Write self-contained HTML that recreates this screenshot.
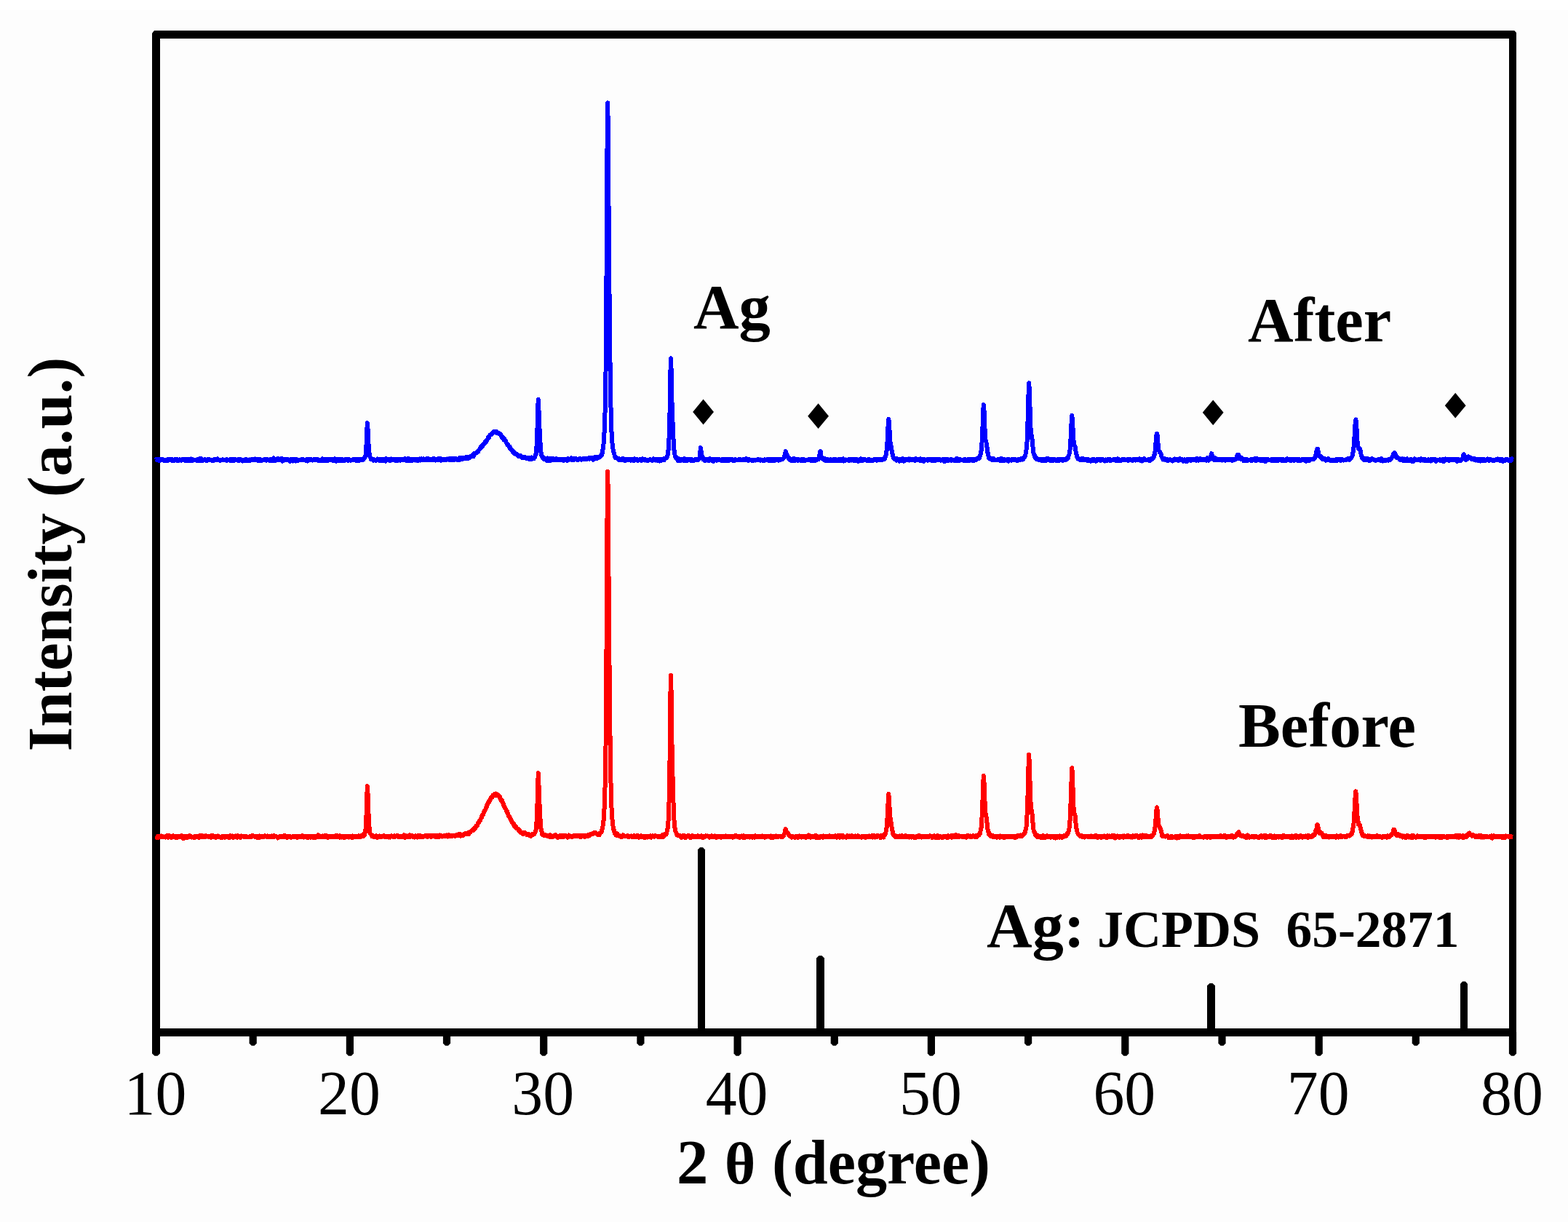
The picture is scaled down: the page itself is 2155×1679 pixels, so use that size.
<!DOCTYPE html>
<html><head><meta charset="utf-8"><title>XRD pattern</title>
<style>
html,body{margin:0;padding:0;background:#fdfdfd;}
body{width:2155px;height:1679px;position:relative;overflow:hidden;}
.band{position:absolute;left:0;top:0;width:2155px;height:14px;background:#fff;}
</style></head><body><div class="band"></div>
<svg width="2155" height="1679" viewBox="0 0 2155 1679" style="position:absolute;left:0;top:0"><polygon points="959.0,1418 969.0,1418 969.0,1167.5 966.0,1164.2 962.0,1164.2 959.0,1167.5" fill="#000"/><polygon points="1122.0,1418 1133.0,1418 1133.0,1316.4 1129.5,1313.1 1125.5,1313.1 1122.0,1316.4" fill="#000"/><polygon points="1659.0,1418 1670.0,1418 1670.0,1354.2 1666.5,1350.9 1662.5,1350.9 1659.0,1354.2" fill="#000"/><polygon points="2007.0,1418 2017.0,1418 2017.0,1351.7 2014.0,1348.4 2010.0,1348.4 2007.0,1351.7" fill="#000"/><polygon points="966.6,548.6 981.0,566.0 966.6,583.4 952.2,566.0" fill="#000"/><polygon points="1124.6,554.3 1139.0,571.7 1124.6,589.1 1110.2,571.7" fill="#000"/><polygon points="1667.2,549.4 1681.6,566.8 1667.2,584.2 1652.8,566.8" fill="#000"/><polygon points="2000.2,539.8 2014.6,557.2 2000.2,574.6 1985.8,557.2" fill="#000"/><rect x="209" y="42" width="11" height="1382" fill="#000"/><rect x="2074" y="42" width="10" height="1382" fill="#000"/><rect x="209" y="42" width="1875" height="11" fill="#000"/><rect x="209" y="1413" width="1875" height="11" fill="#000"/><polygon points="208.5,41.5 212.3,41.5 208.5,46.4" fill="#fdfdfd"/><polygon points="2080.8,41.5 2084.5,41.5 2084.5,45.5" fill="#fdfdfd"/><polygon points="209.0,1418 220.0,1418 220.0,1447.4 216.5,1450.7 212.5,1450.7 209.0,1447.4" fill="#000"/><polygon points="342.6,1418 352.8,1418 352.8,1433.5 349.7,1436.8 345.7,1436.8 342.6,1433.5" fill="#000"/><polygon points="475.8,1418 486.0,1418 486.0,1447.4 482.9,1450.7 478.9,1450.7 475.8,1447.4" fill="#000"/><polygon points="608.9,1418 619.1,1418 619.1,1433.5 616.0,1436.8 612.0,1436.8 608.9,1433.5" fill="#000"/><polygon points="742.1,1418 752.3,1418 752.3,1447.4 749.2,1450.7 745.2,1450.7 742.1,1447.4" fill="#000"/><polygon points="875.3,1418 885.5,1418 885.5,1433.5 882.4,1436.8 878.4,1436.8 875.3,1433.5" fill="#000"/><polygon points="1008.5,1418 1018.7,1418 1018.7,1447.4 1015.6,1450.7 1011.6,1450.7 1008.5,1447.4" fill="#000"/><polygon points="1141.7,1418 1151.9,1418 1151.9,1433.5 1148.8,1436.8 1144.8,1436.8 1141.7,1433.5" fill="#000"/><polygon points="1274.8,1418 1285.0,1418 1285.0,1447.4 1281.9,1450.7 1277.9,1450.7 1274.8,1447.4" fill="#000"/><polygon points="1408.0,1418 1418.2,1418 1418.2,1433.5 1415.1,1436.8 1411.1,1436.8 1408.0,1433.5" fill="#000"/><polygon points="1541.2,1418 1551.4,1418 1551.4,1447.4 1548.3,1450.7 1544.3,1450.7 1541.2,1447.4" fill="#000"/><polygon points="1674.4,1418 1684.6,1418 1684.6,1433.5 1681.5,1436.8 1677.5,1436.8 1674.4,1433.5" fill="#000"/><polygon points="1807.6,1418 1817.8,1418 1817.8,1447.4 1814.7,1450.7 1810.7,1450.7 1807.6,1447.4" fill="#000"/><polygon points="1940.7,1418 1950.9,1418 1950.9,1433.5 1947.8,1436.8 1943.8,1436.8 1940.7,1433.5" fill="#000"/><polygon points="2073.9,1418 2084.1,1418 2084.1,1447.4 2081.0,1450.7 2077.0,1450.7 2073.9,1447.4" fill="#000"/><polyline fill="none" stroke="#0000ff" stroke-width="6.0" stroke-linejoin="round" shape-rendering="crispEdges" points="214.5,631.9 215.0,631.0 215.6,631.1 216.1,632.3 216.6,632.1 217.2,632.3 217.7,631.5 218.2,632.0 218.8,631.4 219.3,633.2 219.8,630.8 220.4,632.0 220.9,631.5 221.4,632.0 222.0,632.2 222.5,631.6 223.0,631.4 223.6,632.1 224.1,632.0 224.6,631.5 225.2,632.5 225.7,633.0 226.2,631.7 226.8,632.4 227.3,633.3 227.8,632.5 228.4,632.3 228.9,632.8 229.4,633.0 229.9,631.9 230.5,631.3 231.0,632.1 231.5,632.5 232.1,631.7 232.6,631.4 233.1,632.1 233.7,631.6 234.2,631.2 234.7,632.1 235.3,632.5 235.8,631.7 236.3,631.8 236.9,631.2 237.4,632.8 237.9,632.4 238.5,632.5 239.0,633.1 239.5,631.8 240.1,631.6 240.6,632.4 241.1,631.0 241.7,631.4 242.2,631.5 242.7,631.6 243.3,631.3 243.8,632.9 244.3,631.5 244.9,631.5 245.4,633.2 245.9,631.7 246.5,632.1 247.0,631.4 247.5,632.2 248.1,631.9 248.6,631.7 249.1,632.5 249.7,631.5 250.2,632.0 250.7,631.6 251.3,632.3 251.8,631.2 252.3,631.5 252.9,632.1 253.4,631.5 253.9,631.0 254.5,630.7 255.0,633.0 255.5,631.3 256.1,631.6 256.6,632.0 257.1,632.6 257.7,631.0 258.2,632.8 258.7,631.5 259.2,631.0 259.8,633.0 260.3,632.1 260.8,632.8 261.4,631.8 261.9,630.9 262.4,630.5 263.0,633.2 263.5,632.3 264.0,631.4 264.6,630.8 265.1,631.6 265.6,632.5 266.2,631.7 266.7,631.9 267.2,632.1 267.8,632.4 268.3,631.7 268.8,631.7 269.4,632.0 269.9,632.1 270.4,632.8 271.0,632.3 271.5,631.1 272.0,632.1 272.6,632.9 273.1,631.0 273.6,631.6 274.2,630.5 274.7,631.9 275.2,632.3 275.8,632.9 276.3,631.0 276.8,630.1 277.4,632.5 277.9,632.4 278.4,631.5 279.0,632.5 279.5,632.1 280.0,632.2 280.6,631.8 281.1,631.2 281.6,631.9 282.2,631.3 282.7,632.2 283.2,631.7 283.8,633.4 284.3,632.9 284.8,631.4 285.4,632.3 285.9,631.5 286.4,631.5 286.9,631.0 287.5,631.4 288.0,631.2 288.5,632.0 289.1,632.4 289.6,632.4 290.1,632.3 290.7,632.7 291.2,632.3 291.7,632.0 292.3,631.7 292.8,632.2 293.3,633.3 293.9,632.0 294.4,631.8 294.9,631.2 295.5,631.5 296.0,632.4 296.5,632.4 297.1,630.5 297.6,631.4 298.1,630.6 298.7,630.4 299.2,632.5 299.7,631.7 300.3,631.6 300.8,631.5 301.3,631.5 301.9,631.8 302.4,631.8 302.9,633.0 303.5,632.0 304.0,632.4 304.5,631.8 305.1,632.3 305.6,631.5 306.1,631.4 306.7,631.7 307.2,631.7 307.7,631.9 308.3,632.2 308.8,632.0 309.3,632.3 309.9,631.7 310.4,631.9 310.9,631.5 311.5,632.9 312.0,631.3 312.5,632.5 313.1,632.4 313.6,632.1 314.1,632.3 314.7,631.7 315.2,632.3 315.7,632.7 316.2,632.5 316.8,631.0 317.3,631.9 317.8,632.7 318.4,631.9 318.9,633.0 319.4,630.7 320.0,633.0 320.5,631.6 321.0,631.5 321.6,632.9 322.1,631.7 322.6,631.2 323.2,631.6 323.7,631.7 324.2,631.3 324.8,631.8 325.3,631.7 325.8,632.0 326.4,631.5 326.9,632.6 327.4,631.4 328.0,632.3 328.5,632.7 329.0,631.7 329.6,630.7 330.1,631.2 330.6,632.3 331.2,631.4 331.7,632.2 332.2,632.0 332.8,631.9 333.3,633.5 333.8,631.8 334.4,632.6 334.9,632.4 335.4,633.0 336.0,633.0 336.5,632.6 337.0,631.3 337.6,630.8 338.1,631.9 338.6,631.2 339.2,632.1 339.7,633.3 340.2,631.8 340.8,631.6 341.3,632.2 341.8,631.7 342.4,631.5 342.9,632.5 343.4,633.0 344.0,632.1 344.5,632.1 345.0,632.2 345.5,631.2 346.1,630.7 346.6,632.2 347.1,631.4 347.7,631.3 348.2,631.4 348.7,631.2 349.3,632.2 349.8,631.4 350.3,630.5 350.9,631.4 351.4,632.3 351.9,631.5 352.5,631.0 353.0,631.7 353.5,632.3 354.1,630.8 354.6,632.8 355.1,631.6 355.7,631.9 356.2,632.8 356.7,631.1 357.3,631.7 357.8,632.7 358.3,631.5 358.9,632.2 359.4,633.2 359.9,632.4 360.5,631.7 361.0,631.5 361.5,631.8 362.1,631.9 362.6,631.6 363.1,632.1 363.7,631.1 364.2,631.8 364.7,631.7 365.3,631.5 365.8,632.7 366.3,632.4 366.9,630.8 367.4,631.7 367.9,632.1 368.5,631.7 369.0,632.2 369.5,631.7 370.1,632.4 370.6,631.7 371.1,633.0 371.7,631.0 372.2,632.3 372.7,633.0 373.3,632.1 373.8,632.2 374.3,631.8 374.8,632.7 375.4,631.6 375.9,629.4 376.4,632.8 377.0,631.7 377.5,632.1 378.0,631.8 378.6,633.2 379.1,632.7 379.6,631.6 380.2,631.9 380.7,630.8 381.2,632.4 381.8,631.8 382.3,629.9 382.8,632.4 383.4,632.5 383.9,631.9 384.4,631.9 385.0,631.3 385.5,631.8 386.0,632.4 386.6,631.8 387.1,630.1 387.6,631.0 388.2,633.9 388.7,632.0 389.2,632.5 389.8,631.5 390.3,632.0 390.8,630.6 391.4,631.3 391.9,631.3 392.4,631.8 393.0,631.9 393.5,631.7 394.0,631.0 394.6,631.5 395.1,632.2 395.6,631.0 396.2,631.8 396.7,632.0 397.2,632.5 397.8,632.3 398.3,632.3 398.8,633.9 399.4,631.2 399.9,631.5 400.4,632.1 401.0,631.2 401.5,631.6 402.0,631.6 402.6,633.6 403.1,632.1 403.6,631.5 404.1,630.8 404.7,630.6 405.2,630.9 405.7,632.7 406.3,633.4 406.8,631.5 407.3,631.9 407.9,631.2 408.4,632.0 408.9,631.7 409.5,632.9 410.0,631.6 410.5,632.2 411.1,631.7 411.6,631.6 412.1,632.0 412.7,631.7 413.2,631.9 413.7,631.4 414.3,631.5 414.8,632.3 415.3,632.3 415.9,630.7 416.4,632.0 416.9,631.2 417.5,631.6 418.0,632.3 418.5,632.4 419.1,631.8 419.6,631.7 420.1,631.5 420.7,632.8 421.2,632.3 421.7,632.0 422.3,630.8 422.8,633.5 423.3,631.6 423.9,632.3 424.4,631.6 424.9,632.2 425.5,631.6 426.0,630.8 426.5,631.6 427.1,631.6 427.6,631.6 428.1,632.4 428.7,631.5 429.2,632.0 429.7,632.5 430.3,631.9 430.8,632.0 431.3,631.4 431.8,631.9 432.4,632.3 432.9,630.9 433.4,631.2 434.0,631.0 434.5,631.5 435.0,632.0 435.6,632.2 436.1,632.1 436.6,631.2 437.2,631.8 437.7,632.9 438.2,631.9 438.8,632.9 439.3,631.8 439.8,632.7 440.4,632.8 440.9,631.8 441.4,631.9 442.0,633.0 442.5,631.4 443.0,630.4 443.6,632.9 444.1,630.6 444.6,632.4 445.2,632.2 445.7,632.0 446.2,632.9 446.8,631.0 447.3,631.5 447.8,632.4 448.4,632.1 448.9,632.9 449.4,632.1 450.0,631.2 450.5,633.1 451.0,632.2 451.6,631.8 452.1,631.1 452.6,630.9 453.2,632.2 453.7,632.4 454.2,631.6 454.8,632.1 455.3,632.1 455.8,631.1 456.4,630.7 456.9,631.7 457.4,632.0 458.0,631.5 458.5,633.2 459.0,631.9 459.6,632.6 460.1,630.2 460.6,631.4 461.1,631.8 461.7,632.0 462.2,633.6 462.7,631.4 463.3,630.7 463.8,632.4 464.3,631.4 464.9,631.4 465.4,633.0 465.9,631.2 466.5,630.9 467.0,631.7 467.5,631.9 468.1,631.3 468.6,632.9 469.1,631.8 469.7,631.1 470.2,632.7 470.7,631.2 471.3,632.2 471.8,633.3 472.3,631.9 472.9,632.5 473.4,631.6 473.9,632.7 474.5,631.1 475.0,632.4 475.5,631.6 476.1,632.3 476.6,632.1 477.1,631.0 477.7,631.7 478.2,632.1 478.7,632.7 479.3,631.0 479.8,631.3 480.3,632.1 480.9,631.7 481.4,632.6 481.9,632.6 482.5,632.4 483.0,631.6 483.5,631.6 484.1,632.4 484.6,631.3 485.1,631.3 485.7,631.7 486.2,631.1 486.7,632.0 487.3,631.9 487.8,631.5 488.3,631.8 488.9,631.3 489.4,632.7 489.9,630.8 490.4,632.4 491.0,631.9 491.5,632.8 492.0,631.4 492.6,630.9 493.1,631.0 493.6,631.2 494.2,632.8 494.7,632.3 495.2,632.0 495.8,632.3 496.3,630.8 496.8,631.5 497.4,631.5 497.9,631.1 498.4,632.0 499.0,631.8 499.5,631.6 500.0,630.3 500.6,629.9 501.1,629.1 501.6,627.5 502.2,627.2 502.7,623.1 503.2,616.3 503.8,606.4 504.3,591.2 504.8,581.0 505.4,586.1 505.9,597.3 506.4,608.1 507.0,616.7 507.5,621.7 508.0,626.4 508.6,628.0 509.1,628.5 509.6,630.4 510.2,631.1 510.7,631.0 511.2,630.7 511.8,631.0 512.3,631.3 512.8,631.1 513.4,632.7 513.9,632.2 514.4,631.5 515.0,632.3 515.5,632.6 516.0,632.6 516.6,632.4 517.1,631.9 517.6,632.5 518.2,631.6 518.7,630.6 519.2,631.9 519.7,630.9 520.3,631.6 520.8,632.6 521.3,632.0 521.9,632.5 522.4,631.2 522.9,632.6 523.5,630.9 524.0,631.4 524.5,633.2 525.1,631.2 525.6,630.7 526.1,632.3 526.7,631.1 527.2,633.0 527.7,631.6 528.3,632.9 528.8,631.4 529.3,633.0 529.9,633.6 530.4,631.5 530.9,630.2 531.5,632.2 532.0,631.2 532.5,631.7 533.1,632.0 533.6,631.3 534.1,630.6 534.7,632.6 535.2,631.4 535.7,631.5 536.3,632.8 536.8,630.6 537.3,630.4 537.9,632.4 538.4,630.6 538.9,631.7 539.5,631.9 540.0,630.7 540.5,631.6 541.1,631.5 541.6,630.7 542.1,630.9 542.7,631.1 543.2,632.7 543.7,632.9 544.3,631.0 544.8,632.4 545.3,631.6 545.9,632.5 546.4,631.9 546.9,632.6 547.4,630.6 548.0,632.5 548.5,631.8 549.0,631.9 549.6,630.9 550.1,632.7 550.6,631.8 551.2,631.9 551.7,631.4 552.2,631.4 552.8,632.1 553.3,631.6 553.8,632.0 554.4,631.4 554.9,631.8 555.4,632.2 556.0,631.7 556.5,631.5 557.0,630.1 557.6,632.1 558.1,631.5 558.6,630.7 559.2,633.2 559.7,632.9 560.2,632.5 560.8,631.8 561.3,630.0 561.8,631.4 562.4,630.8 562.9,631.8 563.4,633.4 564.0,633.3 564.5,631.0 565.0,631.6 565.6,632.6 566.1,630.9 566.6,632.8 567.2,630.9 567.7,630.7 568.2,632.2 568.8,632.4 569.3,631.1 569.8,632.4 570.4,631.1 570.9,632.5 571.4,631.1 572.0,631.6 572.5,631.9 573.0,632.3 573.6,631.5 574.1,633.0 574.6,631.8 575.2,631.9 575.7,631.1 576.2,632.5 576.7,630.4 577.3,631.8 577.8,632.4 578.3,630.6 578.9,630.4 579.4,631.7 579.9,632.2 580.5,631.6 581.0,632.1 581.5,631.8 582.1,630.5 582.6,631.3 583.1,631.5 583.7,631.3 584.2,631.6 584.7,631.0 585.3,630.9 585.8,631.8 586.3,631.5 586.9,629.9 587.4,631.2 587.9,631.7 588.5,630.1 589.0,631.5 589.5,632.3 590.1,631.0 590.6,632.1 591.1,631.9 591.7,631.3 592.2,631.6 592.7,632.0 593.3,631.9 593.8,631.9 594.3,630.7 594.9,632.0 595.4,631.9 595.9,630.0 596.5,631.8 597.0,630.4 597.5,630.5 598.1,631.5 598.6,632.4 599.1,631.1 599.7,630.9 600.2,630.7 600.7,631.4 601.3,630.6 601.8,630.4 602.3,632.1 602.9,630.4 603.4,631.2 603.9,631.8 604.5,631.6 605.0,630.0 605.5,630.6 606.0,632.6 606.6,631.3 607.1,631.4 607.6,631.4 608.2,631.7 608.7,632.3 609.2,630.7 609.8,631.9 610.3,631.5 610.8,631.7 611.4,631.7 611.9,630.7 612.4,630.9 613.0,631.7 613.5,631.9 614.0,631.5 614.6,630.5 615.1,631.1 615.6,631.0 616.2,631.4 616.7,631.3 617.2,631.0 617.8,632.4 618.3,629.9 618.8,631.6 619.4,631.4 619.9,630.1 620.4,630.9 621.0,631.0 621.5,631.4 622.0,632.1 622.6,630.8 623.1,630.1 623.6,631.5 624.2,629.9 624.7,631.7 625.2,631.4 625.8,630.5 626.3,630.8 626.8,630.3 627.4,631.3 627.9,631.4 628.4,632.0 629.0,631.5 629.5,631.4 630.0,631.6 630.6,630.3 631.1,631.0 631.6,631.9 632.2,628.7 632.7,631.0 633.2,631.2 633.8,629.4 634.3,629.4 634.8,631.0 635.3,631.1 635.9,630.8 636.4,629.2 636.9,630.1 637.5,630.4 638.0,629.8 638.5,628.8 639.1,630.5 639.6,629.7 640.1,630.3 640.7,627.7 641.2,627.9 641.7,628.3 642.3,629.0 642.8,628.3 643.3,630.1 643.9,628.2 644.4,629.2 644.9,629.0 645.5,628.4 646.0,627.9 646.5,627.1 647.1,626.7 647.6,626.8 648.1,627.4 648.7,626.0 649.2,626.3 649.7,625.1 650.3,626.2 650.8,627.2 651.3,625.2 651.9,623.0 652.4,623.8 652.9,623.9 653.5,622.8 654.0,622.6 654.5,622.2 655.1,622.4 655.6,621.5 656.1,620.9 656.7,621.0 657.2,620.8 657.7,619.3 658.3,618.2 658.8,617.8 659.3,617.3 659.9,616.7 660.4,614.6 660.9,615.6 661.5,614.3 662.0,613.0 662.5,613.7 663.1,612.8 663.6,611.5 664.1,610.3 664.6,610.6 665.2,609.8 665.7,609.2 666.2,609.3 666.8,607.0 667.3,607.1 667.8,607.4 668.4,605.5 668.9,605.9 669.4,604.6 670.0,603.1 670.5,603.1 671.0,600.9 671.6,602.0 672.1,600.1 672.6,599.2 673.2,597.9 673.7,597.7 674.2,597.6 674.8,597.1 675.3,596.7 675.8,595.4 676.4,596.2 676.9,594.9 677.4,595.0 678.0,594.4 678.5,594.5 679.0,592.6 679.6,594.3 680.1,593.6 680.6,593.5 681.2,593.2 681.7,593.3 682.2,593.4 682.8,593.2 683.3,595.1 683.8,594.3 684.4,595.4 684.9,594.7 685.4,596.1 686.0,596.4 686.5,596.2 687.0,595.7 687.6,596.8 688.1,597.5 688.6,597.4 689.2,599.6 689.7,601.1 690.2,600.6 690.8,601.2 691.3,600.8 691.8,600.9 692.3,604.1 692.9,602.2 693.4,603.6 693.9,604.8 694.5,605.9 695.0,605.3 695.5,607.7 696.1,608.8 696.6,609.2 697.1,611.0 697.7,610.4 698.2,611.6 698.7,612.0 699.3,612.7 699.8,614.4 700.3,613.5 700.9,615.8 701.4,615.1 701.9,617.5 702.5,616.8 703.0,618.2 703.5,618.2 704.1,619.3 704.6,620.9 705.1,620.8 705.7,620.5 706.2,620.6 706.7,622.6 707.3,623.5 707.8,623.1 708.3,623.1 708.9,623.8 709.4,624.3 709.9,623.6 710.5,623.8 711.0,624.4 711.5,625.9 712.1,625.5 712.6,626.0 713.1,627.2 713.7,625.8 714.2,626.6 714.7,627.3 715.3,626.2 715.8,626.9 716.3,627.0 716.9,627.0 717.4,627.5 717.9,629.1 718.5,628.6 719.0,627.8 719.5,629.2 720.1,628.8 720.6,628.7 721.1,628.1 721.6,628.3 722.2,628.7 722.7,629.5 723.2,628.8 723.8,629.2 724.3,629.8 724.8,628.8 725.4,629.4 725.9,630.4 726.4,629.0 727.0,630.1 727.5,629.6 728.0,631.1 728.6,630.1 729.1,630.7 729.6,630.7 730.2,631.4 730.7,628.5 731.2,630.1 731.8,629.7 732.3,629.0 732.8,629.7 733.4,629.1 733.9,630.1 734.4,628.5 735.0,628.3 735.5,626.6 736.0,625.2 736.6,623.8 737.1,620.0 737.6,612.3 738.2,599.3 738.7,581.2 739.2,559.4 739.8,549.0 740.3,557.4 740.8,573.1 741.4,586.7 741.9,597.3 742.4,606.3 743.0,615.0 743.5,621.4 744.0,624.8 744.6,626.3 745.1,627.7 745.6,628.8 746.2,627.7 746.7,629.9 747.2,630.0 747.8,631.0 748.3,630.7 748.8,630.2 749.4,630.3 749.9,630.9 750.4,630.6 750.9,630.9 751.5,632.3 752.0,633.3 752.5,629.4 753.1,630.5 753.6,631.2 754.1,632.4 754.7,632.1 755.2,630.2 755.7,633.2 756.3,631.4 756.8,630.6 757.3,631.1 757.9,630.7 758.4,631.4 758.9,629.6 759.5,632.0 760.0,632.3 760.5,631.1 761.1,630.3 761.6,631.4 762.1,630.6 762.7,631.7 763.2,632.2 763.7,630.4 764.3,630.3 764.8,630.3 765.3,631.7 765.9,632.2 766.4,632.2 766.9,631.5 767.5,631.0 768.0,631.0 768.5,632.4 769.1,631.3 769.6,631.4 770.1,631.3 770.7,631.4 771.2,631.6 771.7,631.0 772.3,631.3 772.8,631.3 773.3,631.9 773.9,631.1 774.4,631.5 774.9,632.9 775.5,631.1 776.0,631.6 776.5,630.8 777.1,631.5 777.6,631.5 778.1,631.3 778.7,631.4 779.2,631.7 779.7,632.7 780.2,630.1 780.8,632.5 781.3,631.7 781.8,631.0 782.4,631.1 782.9,631.0 783.4,630.9 784.0,630.5 784.5,631.2 785.0,629.3 785.6,632.1 786.1,631.2 786.6,631.6 787.2,631.7 787.7,631.1 788.2,630.3 788.8,631.8 789.3,631.8 789.8,630.8 790.4,630.9 790.9,629.9 791.4,630.5 792.0,631.1 792.5,631.4 793.0,631.0 793.6,631.3 794.1,632.1 794.6,631.1 795.2,631.2 795.7,631.2 796.2,631.3 796.8,629.8 797.3,630.5 797.8,630.3 798.4,631.3 798.9,631.6 799.4,631.0 800.0,630.6 800.5,631.0 801.0,630.8 801.6,630.0 802.1,630.4 802.6,631.2 803.2,630.8 803.7,630.9 804.2,630.2 804.8,631.1 805.3,630.4 805.8,629.7 806.4,630.1 806.9,630.7 807.4,630.5 808.0,629.9 808.5,629.6 809.0,629.3 809.5,629.9 810.1,630.7 810.6,628.7 811.1,629.5 811.7,629.4 812.2,629.4 812.7,630.3 813.3,629.8 813.8,629.4 814.3,628.8 814.9,629.5 815.4,631.7 815.9,629.7 816.5,629.2 817.0,628.6 817.5,629.0 818.1,627.7 818.6,628.4 819.1,628.4 819.7,628.6 820.2,630.2 820.7,628.5 821.3,628.6 821.8,629.3 822.3,628.3 822.9,628.2 823.4,628.6 823.9,628.0 824.5,627.7 825.0,626.8 825.5,626.7 826.1,625.2 826.6,625.9 827.1,623.4 827.7,622.7 828.2,619.7 828.7,616.0 829.3,612.4 829.8,606.9 830.3,599.1 830.9,587.0 831.4,572.7 831.9,547.2 832.5,512.7 833.0,458.1 833.5,380.8 834.1,284.3 834.6,189.3 835.1,141.4 835.7,167.2 836.2,236.5 836.7,311.2 837.2,375.5 837.8,430.2 838.3,481.4 838.8,522.1 839.4,555.1 839.9,575.3 840.4,592.0 841.0,600.6 841.5,608.8 842.0,614.0 842.6,617.5 843.1,620.1 843.6,621.9 844.2,623.2 844.7,625.9 845.2,627.5 845.8,629.3 846.3,628.3 846.8,628.1 847.4,628.8 847.9,629.3 848.4,629.9 849.0,630.4 849.5,630.3 850.0,630.0 850.6,631.7 851.1,630.1 851.6,631.7 852.2,630.9 852.7,631.4 853.2,631.3 853.8,631.8 854.3,631.9 854.8,631.4 855.4,632.0 855.9,629.6 856.4,631.6 857.0,631.8 857.5,631.8 858.0,632.2 858.6,633.2 859.1,631.7 859.6,631.3 860.2,632.6 860.7,631.5 861.2,632.4 861.8,631.6 862.3,631.3 862.8,631.3 863.4,631.3 863.9,632.1 864.4,631.0 865.0,632.0 865.5,631.4 866.0,631.2 866.5,631.9 867.1,632.6 867.6,631.3 868.1,632.5 868.7,632.3 869.2,632.5 869.7,631.1 870.3,631.8 870.8,633.3 871.3,631.2 871.9,630.3 872.4,630.5 872.9,632.2 873.5,631.7 874.0,631.4 874.5,631.1 875.1,631.7 875.6,632.5 876.1,631.3 876.7,631.4 877.2,632.7 877.7,632.0 878.3,631.6 878.8,631.8 879.3,631.4 879.9,631.2 880.4,631.4 880.9,631.9 881.5,632.7 882.0,631.4 882.5,630.8 883.1,630.4 883.6,631.8 884.1,631.8 884.7,630.8 885.2,630.8 885.7,631.6 886.3,631.3 886.8,632.4 887.3,631.4 887.9,632.4 888.4,631.9 888.9,631.9 889.5,632.2 890.0,633.3 890.5,632.4 891.1,631.6 891.6,631.9 892.1,632.1 892.7,631.5 893.2,631.3 893.7,631.2 894.3,632.4 894.8,631.8 895.3,632.1 895.8,632.4 896.4,632.9 896.9,631.9 897.4,632.4 898.0,630.3 898.5,631.9 899.0,632.0 899.6,632.1 900.1,630.5 900.6,632.5 901.2,631.9 901.7,632.3 902.2,631.9 902.8,631.8 903.3,631.0 903.8,632.8 904.4,631.8 904.9,630.6 905.4,632.1 906.0,631.8 906.5,632.3 907.0,633.5 907.6,631.7 908.1,630.8 908.6,631.9 909.2,632.8 909.7,631.3 910.2,631.4 910.8,630.7 911.3,630.7 911.8,631.4 912.4,630.8 912.9,632.2 913.4,630.0 914.0,630.4 914.5,629.5 915.0,629.1 915.6,629.5 916.1,628.7 916.6,628.2 917.2,627.6 917.7,624.1 918.2,620.6 918.8,616.5 919.3,607.1 919.8,594.4 920.4,573.3 920.9,543.9 921.4,511.3 922.0,492.4 922.5,504.9 923.0,532.9 923.6,556.3 924.1,570.7 924.6,582.2 925.1,594.9 925.7,607.4 926.2,614.0 926.7,621.2 927.3,624.0 927.8,626.3 928.3,627.4 928.9,629.8 929.4,628.5 929.9,629.5 930.5,629.8 931.0,629.7 931.5,631.4 932.1,633.2 932.6,630.9 933.1,630.3 933.7,630.5 934.2,631.8 934.7,631.6 935.3,631.3 935.8,632.9 936.3,632.1 936.9,632.1 937.4,630.6 937.9,632.2 938.5,630.6 939.0,631.7 939.5,632.9 940.1,630.2 940.6,632.5 941.1,631.4 941.7,630.6 942.2,632.2 942.7,632.7 943.3,631.1 943.8,631.8 944.3,632.7 944.9,632.6 945.4,632.1 945.9,631.2 946.5,632.0 947.0,631.4 947.5,630.7 948.1,631.0 948.6,630.8 949.1,631.0 949.7,633.0 950.2,631.0 950.7,631.6 951.3,631.9 951.8,632.6 952.3,633.0 952.8,632.6 953.4,631.9 953.9,632.7 954.4,632.4 955.0,632.3 955.5,631.4 956.0,632.0 956.6,631.9 957.1,630.9 957.6,632.0 958.2,631.3 958.7,632.4 959.2,631.3 959.8,631.3 960.3,630.9 960.8,630.6 961.4,629.6 961.9,626.0 962.4,620.4 963.0,615.2 963.5,619.2 964.0,626.0 964.6,627.2 965.1,628.2 965.6,627.6 966.2,629.5 966.7,631.5 967.2,630.4 967.8,631.1 968.3,632.5 968.8,633.0 969.4,632.1 969.9,632.6 970.4,632.1 971.0,631.4 971.5,630.8 972.0,632.1 972.6,630.9 973.1,631.1 973.6,632.2 974.2,633.1 974.7,631.3 975.2,631.5 975.8,630.2 976.3,630.9 976.8,631.3 977.4,630.7 977.9,632.6 978.4,631.8 979.0,632.1 979.5,630.7 980.0,631.5 980.6,634.0 981.1,630.9 981.6,632.5 982.1,631.4 982.7,632.2 983.2,631.7 983.7,631.5 984.3,631.8 984.8,632.6 985.3,630.9 985.9,631.6 986.4,631.9 986.9,631.4 987.5,632.3 988.0,630.6 988.5,631.7 989.1,631.6 989.6,631.7 990.1,632.5 990.7,632.7 991.2,631.7 991.7,631.6 992.3,631.0 992.8,631.6 993.3,632.7 993.9,631.5 994.4,631.3 994.9,631.2 995.5,631.7 996.0,632.8 996.5,631.1 997.1,632.4 997.6,631.5 998.1,633.0 998.7,631.4 999.2,632.4 999.7,631.1 1000.3,630.7 1000.8,631.1 1001.3,632.7 1001.9,632.6 1002.4,632.5 1002.9,631.4 1003.5,631.7 1004.0,631.8 1004.5,631.7 1005.1,631.5 1005.6,631.4 1006.1,630.7 1006.7,631.9 1007.2,631.8 1007.7,633.2 1008.3,632.8 1008.8,632.4 1009.3,632.7 1009.9,631.8 1010.4,631.2 1010.9,632.2 1011.4,632.2 1012.0,632.3 1012.5,631.8 1013.0,632.3 1013.6,631.6 1014.1,631.7 1014.6,631.7 1015.2,631.4 1015.7,631.9 1016.2,631.8 1016.8,630.7 1017.3,631.9 1017.8,631.4 1018.4,631.9 1018.9,632.2 1019.4,632.2 1020.0,632.5 1020.5,631.9 1021.0,632.3 1021.6,632.2 1022.1,631.1 1022.6,632.0 1023.2,631.1 1023.7,631.7 1024.2,631.3 1024.8,632.3 1025.3,631.8 1025.8,630.1 1026.4,631.3 1026.9,631.2 1027.4,631.8 1028.0,631.3 1028.5,632.7 1029.0,632.5 1029.6,631.6 1030.1,631.3 1030.6,632.2 1031.2,632.1 1031.7,632.2 1032.2,632.1 1032.8,632.8 1033.3,632.9 1033.8,632.0 1034.4,633.1 1034.9,632.6 1035.4,632.4 1036.0,632.7 1036.5,631.8 1037.0,632.2 1037.6,632.0 1038.1,632.6 1038.6,632.5 1039.2,631.6 1039.7,631.7 1040.2,632.3 1040.7,631.7 1041.3,631.8 1041.8,631.8 1042.3,630.8 1042.9,632.2 1043.4,631.6 1043.9,631.6 1044.5,632.1 1045.0,632.8 1045.5,631.5 1046.1,631.8 1046.6,631.9 1047.1,631.9 1047.7,631.9 1048.2,632.6 1048.7,631.7 1049.3,633.2 1049.8,632.0 1050.3,633.0 1050.9,632.2 1051.4,631.4 1051.9,632.1 1052.5,632.3 1053.0,631.6 1053.5,632.1 1054.1,632.2 1054.6,632.2 1055.1,630.9 1055.7,631.5 1056.2,631.6 1056.7,632.8 1057.3,631.5 1057.8,632.9 1058.3,631.6 1058.9,632.7 1059.4,630.6 1059.9,633.1 1060.5,631.1 1061.0,631.4 1061.5,633.2 1062.1,632.1 1062.6,630.9 1063.1,631.2 1063.7,633.1 1064.2,632.3 1064.7,632.8 1065.3,632.7 1065.8,632.4 1066.3,630.7 1066.9,631.8 1067.4,632.1 1067.9,632.2 1068.5,631.5 1069.0,631.4 1069.5,632.6 1070.0,630.9 1070.6,632.6 1071.1,632.1 1071.6,631.5 1072.2,630.6 1072.7,632.0 1073.2,631.5 1073.8,630.8 1074.3,631.2 1074.8,630.7 1075.4,630.6 1075.9,630.9 1076.4,630.3 1077.0,629.5 1077.5,629.2 1078.0,626.6 1078.6,627.0 1079.1,623.7 1079.6,620.0 1080.2,620.6 1080.7,623.1 1081.2,624.5 1081.8,625.6 1082.3,627.7 1082.8,627.4 1083.4,628.8 1083.9,629.7 1084.4,630.4 1085.0,630.1 1085.5,632.0 1086.0,631.7 1086.6,631.1 1087.1,632.5 1087.6,632.8 1088.2,631.4 1088.7,631.8 1089.2,631.9 1089.8,631.8 1090.3,632.6 1090.8,629.9 1091.4,632.6 1091.9,632.2 1092.4,632.9 1093.0,632.2 1093.5,630.9 1094.0,631.9 1094.6,631.5 1095.1,632.3 1095.6,630.7 1096.2,631.8 1096.7,632.8 1097.2,631.4 1097.7,632.2 1098.3,631.5 1098.8,631.9 1099.3,631.8 1099.9,631.9 1100.4,632.6 1100.9,633.0 1101.5,631.3 1102.0,632.1 1102.5,631.8 1103.1,632.3 1103.6,633.4 1104.1,632.9 1104.7,631.0 1105.2,632.5 1105.7,632.2 1106.3,633.0 1106.8,632.3 1107.3,632.2 1107.9,632.1 1108.4,632.0 1108.9,632.4 1109.5,632.4 1110.0,632.0 1110.5,631.7 1111.1,632.1 1111.6,630.8 1112.1,631.8 1112.7,631.9 1113.2,632.4 1113.7,631.3 1114.3,632.7 1114.8,633.1 1115.3,632.7 1115.9,631.5 1116.4,632.8 1116.9,631.1 1117.5,632.0 1118.0,633.0 1118.5,632.1 1119.1,630.7 1119.6,632.5 1120.1,632.9 1120.7,631.6 1121.2,631.0 1121.7,631.2 1122.3,632.1 1122.8,631.7 1123.3,631.5 1123.9,630.8 1124.4,629.9 1124.9,631.1 1125.5,629.3 1126.0,628.7 1126.5,624.3 1127.0,620.4 1127.6,620.2 1128.1,624.3 1128.6,628.7 1129.2,628.8 1129.7,629.8 1130.2,628.8 1130.8,629.4 1131.3,630.7 1131.8,631.1 1132.4,630.8 1132.9,629.6 1133.4,632.6 1134.0,631.7 1134.5,632.0 1135.0,632.6 1135.6,631.7 1136.1,632.6 1136.6,632.0 1137.2,631.1 1137.7,633.4 1138.2,631.8 1138.8,631.7 1139.3,632.6 1139.8,631.6 1140.4,631.7 1140.9,632.2 1141.4,631.1 1142.0,632.9 1142.5,631.5 1143.0,632.1 1143.6,632.7 1144.1,632.1 1144.6,632.2 1145.2,631.4 1145.7,633.0 1146.2,632.1 1146.8,632.3 1147.3,630.9 1147.8,632.8 1148.4,631.2 1148.9,633.2 1149.4,631.7 1150.0,632.1 1150.5,631.7 1151.0,632.5 1151.6,633.3 1152.1,633.1 1152.6,631.1 1153.2,631.8 1153.7,632.6 1154.2,631.4 1154.8,632.5 1155.3,632.5 1155.8,632.8 1156.3,631.2 1156.9,630.6 1157.4,632.7 1157.9,631.8 1158.5,631.3 1159.0,630.5 1159.5,633.7 1160.1,631.9 1160.6,631.5 1161.1,633.0 1161.7,631.7 1162.2,631.9 1162.7,631.5 1163.3,632.4 1163.8,631.7 1164.3,632.4 1164.9,631.6 1165.4,631.9 1165.9,632.3 1166.5,633.0 1167.0,630.8 1167.5,631.2 1168.1,631.4 1168.6,632.5 1169.1,632.2 1169.7,630.8 1170.2,631.5 1170.7,632.6 1171.3,632.0 1171.8,631.9 1172.3,632.1 1172.9,632.7 1173.4,631.1 1173.9,631.6 1174.5,632.1 1175.0,633.1 1175.5,632.4 1176.1,632.0 1176.6,631.4 1177.1,632.3 1177.7,631.2 1178.2,631.9 1178.7,632.5 1179.3,633.9 1179.8,632.8 1180.3,633.0 1180.9,632.1 1181.4,631.8 1181.9,631.0 1182.5,632.0 1183.0,632.8 1183.5,630.3 1184.1,631.8 1184.6,632.2 1185.1,632.2 1185.6,632.9 1186.2,631.5 1186.7,631.7 1187.2,630.9 1187.8,631.2 1188.3,631.4 1188.8,631.1 1189.4,632.2 1189.9,632.3 1190.4,632.0 1191.0,632.8 1191.5,632.1 1192.0,632.2 1192.6,631.5 1193.1,632.0 1193.6,633.3 1194.2,631.9 1194.7,631.0 1195.2,633.2 1195.8,632.5 1196.3,631.9 1196.8,632.9 1197.4,632.3 1197.9,631.9 1198.4,632.9 1199.0,631.7 1199.5,631.6 1200.0,632.8 1200.6,631.9 1201.1,631.2 1201.6,632.0 1202.2,631.6 1202.7,631.5 1203.2,632.1 1203.8,631.2 1204.3,631.6 1204.8,632.6 1205.4,631.5 1205.9,631.3 1206.4,631.3 1207.0,632.3 1207.5,631.5 1208.0,630.8 1208.6,631.6 1209.1,630.9 1209.6,630.8 1210.2,631.7 1210.7,631.2 1211.2,631.8 1211.8,630.7 1212.3,631.5 1212.8,631.7 1213.3,631.2 1213.9,631.0 1214.4,630.5 1214.9,630.1 1215.5,630.8 1216.0,629.9 1216.5,628.4 1217.1,627.1 1217.6,625.7 1218.1,621.3 1218.7,618.3 1219.2,613.0 1219.7,603.3 1220.3,591.0 1220.8,579.8 1221.3,575.7 1221.9,578.8 1222.4,589.3 1222.9,598.0 1223.5,607.5 1224.0,608.8 1224.5,612.4 1225.1,614.6 1225.6,619.2 1226.1,622.5 1226.7,624.6 1227.2,627.2 1227.7,627.9 1228.3,629.5 1228.8,630.4 1229.3,630.7 1229.9,631.2 1230.4,631.1 1230.9,630.2 1231.5,632.1 1232.0,632.6 1232.5,631.5 1233.1,630.4 1233.6,630.9 1234.1,630.7 1234.7,630.8 1235.2,632.2 1235.7,631.7 1236.3,633.6 1236.8,632.2 1237.3,631.4 1237.9,632.9 1238.4,633.3 1238.9,632.7 1239.5,631.7 1240.0,631.0 1240.5,630.0 1241.1,630.9 1241.6,632.9 1242.1,633.5 1242.6,631.8 1243.2,631.1 1243.7,633.0 1244.2,632.2 1244.8,632.2 1245.3,631.9 1245.8,632.0 1246.4,631.5 1246.9,631.1 1247.4,631.8 1248.0,631.4 1248.5,630.5 1249.0,632.6 1249.6,632.6 1250.1,631.5 1250.6,630.6 1251.2,631.8 1251.7,631.1 1252.2,632.1 1252.8,631.2 1253.3,632.3 1253.8,631.4 1254.4,631.6 1254.9,631.6 1255.4,630.9 1256.0,631.1 1256.5,632.3 1257.0,631.3 1257.6,633.1 1258.1,631.2 1258.6,629.9 1259.2,631.5 1259.7,631.5 1260.2,631.8 1260.8,631.3 1261.3,632.2 1261.8,631.4 1262.4,632.0 1262.9,632.2 1263.4,631.8 1264.0,631.9 1264.5,633.1 1265.0,630.4 1265.6,631.8 1266.1,633.0 1266.6,631.1 1267.2,631.9 1267.7,631.7 1268.2,631.4 1268.8,632.5 1269.3,633.9 1269.8,631.9 1270.4,631.7 1270.9,631.1 1271.4,632.4 1271.9,632.0 1272.5,631.6 1273.0,632.1 1273.5,632.0 1274.1,631.7 1274.6,632.5 1275.1,630.7 1275.7,632.5 1276.2,631.8 1276.7,632.1 1277.3,632.3 1277.8,631.5 1278.3,631.1 1278.9,630.8 1279.4,631.4 1279.9,632.2 1280.5,631.2 1281.0,632.9 1281.5,631.8 1282.1,631.5 1282.6,631.5 1283.1,632.7 1283.7,632.9 1284.2,630.7 1284.7,632.2 1285.3,633.0 1285.8,632.7 1286.3,631.9 1286.9,631.0 1287.4,631.9 1287.9,631.0 1288.5,631.7 1289.0,631.5 1289.5,631.2 1290.1,632.1 1290.6,631.7 1291.1,632.1 1291.7,632.3 1292.2,631.4 1292.7,632.4 1293.3,631.8 1293.8,632.4 1294.3,631.9 1294.9,632.2 1295.4,631.1 1295.9,631.8 1296.5,631.8 1297.0,630.7 1297.5,633.9 1298.1,632.7 1298.6,633.8 1299.1,631.9 1299.7,631.6 1300.2,631.4 1300.7,631.7 1301.2,632.5 1301.8,630.7 1302.3,631.7 1302.8,632.1 1303.4,632.7 1303.9,631.6 1304.4,632.2 1305.0,632.2 1305.5,631.8 1306.0,631.8 1306.6,632.5 1307.1,631.0 1307.6,632.6 1308.2,632.7 1308.7,631.7 1309.2,631.8 1309.8,631.9 1310.3,632.2 1310.8,631.9 1311.4,632.3 1311.9,633.1 1312.4,631.4 1313.0,632.6 1313.5,632.1 1314.0,631.4 1314.6,631.9 1315.1,630.0 1315.6,632.9 1316.2,632.4 1316.7,631.9 1317.2,631.0 1317.8,632.1 1318.3,632.9 1318.8,631.1 1319.4,632.6 1319.9,632.1 1320.4,631.3 1321.0,632.4 1321.5,632.2 1322.0,631.6 1322.6,632.1 1323.1,631.7 1323.6,632.6 1324.2,632.0 1324.7,632.7 1325.2,633.0 1325.8,630.7 1326.3,631.6 1326.8,631.3 1327.4,632.6 1327.9,631.9 1328.4,632.0 1329.0,632.9 1329.5,631.5 1330.0,632.4 1330.5,632.0 1331.1,632.9 1331.6,631.2 1332.1,631.3 1332.7,631.6 1333.2,632.5 1333.7,632.2 1334.3,631.0 1334.8,632.0 1335.3,631.6 1335.9,631.7 1336.4,632.6 1336.9,630.7 1337.5,633.1 1338.0,631.5 1338.5,631.7 1339.1,632.8 1339.6,631.4 1340.1,631.2 1340.7,631.5 1341.2,632.0 1341.7,631.0 1342.3,630.5 1342.8,630.9 1343.3,629.7 1343.9,630.1 1344.4,629.9 1344.9,629.1 1345.5,630.1 1346.0,629.4 1346.5,627.8 1347.1,626.6 1347.6,624.2 1348.1,621.9 1348.7,618.8 1349.2,613.1 1349.7,604.9 1350.3,592.9 1350.8,577.6 1351.3,561.9 1351.9,556.2 1352.4,561.6 1352.9,574.5 1353.5,588.4 1354.0,597.8 1354.5,604.6 1355.1,605.5 1355.6,608.3 1356.1,611.6 1356.7,616.0 1357.2,621.8 1357.7,622.0 1358.2,625.9 1358.8,627.5 1359.3,629.9 1359.8,629.0 1360.4,629.7 1360.9,630.6 1361.4,630.5 1362.0,630.0 1362.5,631.3 1363.0,631.8 1363.6,630.3 1364.1,631.2 1364.6,631.5 1365.2,629.9 1365.7,631.4 1366.2,631.7 1366.8,631.4 1367.3,631.9 1367.8,631.5 1368.4,631.6 1368.9,632.1 1369.4,631.9 1370.0,631.5 1370.5,631.4 1371.0,631.3 1371.6,631.2 1372.1,631.6 1372.6,631.4 1373.2,632.0 1373.7,631.9 1374.2,631.0 1374.8,633.2 1375.3,631.5 1375.8,629.6 1376.4,633.1 1376.9,630.8 1377.4,633.0 1378.0,631.6 1378.5,630.7 1379.0,630.8 1379.6,632.5 1380.1,632.7 1380.6,632.8 1381.2,631.3 1381.7,632.1 1382.2,631.8 1382.8,631.7 1383.3,631.6 1383.8,631.5 1384.4,631.8 1384.9,633.0 1385.4,630.8 1386.0,633.8 1386.5,631.0 1387.0,632.3 1387.5,632.0 1388.1,632.2 1388.6,632.1 1389.1,631.9 1389.7,632.0 1390.2,632.6 1390.7,631.2 1391.3,632.2 1391.8,630.9 1392.3,631.9 1392.9,632.3 1393.4,631.5 1393.9,631.2 1394.5,632.4 1395.0,632.0 1395.5,630.8 1396.1,632.5 1396.6,632.3 1397.1,631.6 1397.7,632.6 1398.2,633.4 1398.7,632.8 1399.3,631.4 1399.8,631.1 1400.3,631.2 1400.9,631.3 1401.4,632.3 1401.9,630.9 1402.5,630.5 1403.0,631.7 1403.5,630.5 1404.1,631.3 1404.6,630.7 1405.1,630.4 1405.7,631.5 1406.2,629.1 1406.7,630.3 1407.3,629.3 1407.8,628.9 1408.3,627.3 1408.9,626.1 1409.4,624.6 1409.9,621.1 1410.5,618.3 1411.0,613.4 1411.5,607.0 1412.1,593.3 1412.6,576.5 1413.1,556.0 1413.7,536.3 1414.2,526.4 1414.7,533.4 1415.3,550.8 1415.8,569.9 1416.3,584.8 1416.8,592.1 1417.4,597.0 1417.9,598.1 1418.4,602.2 1419.0,608.6 1419.5,614.1 1420.0,619.2 1420.6,623.0 1421.1,624.2 1421.6,624.7 1422.2,627.5 1422.7,628.2 1423.2,629.5 1423.8,630.3 1424.3,628.8 1424.8,630.9 1425.4,630.6 1425.9,631.1 1426.4,630.7 1427.0,631.3 1427.5,630.9 1428.0,632.3 1428.6,631.5 1429.1,630.6 1429.6,632.3 1430.2,632.1 1430.7,630.7 1431.2,631.4 1431.8,630.9 1432.3,633.3 1432.8,631.6 1433.4,632.6 1433.9,632.7 1434.4,631.5 1435.0,631.0 1435.5,632.8 1436.0,632.6 1436.6,632.2 1437.1,631.9 1437.6,632.8 1438.2,630.2 1438.7,631.4 1439.2,632.1 1439.8,632.2 1440.3,630.2 1440.8,630.3 1441.4,632.2 1441.9,631.6 1442.4,631.0 1443.0,632.7 1443.5,632.3 1444.0,630.9 1444.6,632.4 1445.1,632.2 1445.6,632.8 1446.1,632.4 1446.7,631.4 1447.2,632.4 1447.7,632.8 1448.3,632.3 1448.8,630.6 1449.3,631.7 1449.9,632.3 1450.4,631.8 1450.9,631.6 1451.5,631.8 1452.0,633.1 1452.5,631.6 1453.1,632.0 1453.6,631.3 1454.1,632.8 1454.7,631.1 1455.2,632.2 1455.7,633.0 1456.3,630.9 1456.8,632.2 1457.3,631.5 1457.9,631.9 1458.4,631.0 1458.9,631.0 1459.5,630.9 1460.0,631.2 1460.5,632.8 1461.1,632.8 1461.6,631.4 1462.1,632.2 1462.7,631.1 1463.2,631.3 1463.7,632.3 1464.3,631.9 1464.8,631.8 1465.3,631.5 1465.9,630.8 1466.4,629.8 1466.9,628.9 1467.5,630.0 1468.0,629.0 1468.5,626.4 1469.1,625.4 1469.6,623.6 1470.1,622.2 1470.7,616.5 1471.2,608.7 1471.7,599.5 1472.3,585.8 1472.8,576.1 1473.3,571.0 1473.9,576.1 1474.4,586.2 1474.9,596.7 1475.4,604.7 1476.0,609.3 1476.5,611.2 1477.0,612.5 1477.6,613.6 1478.1,618.1 1478.6,620.3 1479.2,623.3 1479.7,624.7 1480.2,627.6 1480.8,628.4 1481.3,630.0 1481.8,629.7 1482.4,630.2 1482.9,631.2 1483.4,631.3 1484.0,631.2 1484.5,630.9 1485.0,632.2 1485.6,630.8 1486.1,631.8 1486.6,630.2 1487.2,630.6 1487.7,632.0 1488.2,632.2 1488.8,630.0 1489.3,631.3 1489.8,631.4 1490.4,632.1 1490.9,631.9 1491.4,631.3 1492.0,631.4 1492.5,632.4 1493.0,631.0 1493.6,631.6 1494.1,632.5 1494.6,631.2 1495.2,632.0 1495.7,631.3 1496.2,632.3 1496.8,631.6 1497.3,633.0 1497.8,631.6 1498.4,633.0 1498.9,631.8 1499.4,633.7 1500.0,632.0 1500.5,631.4 1501.0,631.6 1501.6,631.1 1502.1,632.7 1502.6,630.8 1503.1,630.8 1503.7,632.8 1504.2,632.5 1504.7,632.3 1505.3,631.9 1505.8,631.8 1506.3,633.7 1506.9,631.5 1507.4,632.1 1507.9,632.7 1508.5,631.3 1509.0,632.2 1509.5,631.1 1510.1,631.6 1510.6,632.2 1511.1,631.1 1511.7,631.4 1512.2,632.3 1512.7,633.1 1513.3,632.3 1513.8,631.5 1514.3,632.1 1514.9,630.7 1515.4,631.8 1515.9,631.8 1516.5,631.7 1517.0,632.6 1517.5,632.0 1518.1,632.4 1518.6,633.6 1519.1,633.2 1519.7,631.4 1520.2,632.3 1520.7,632.0 1521.3,633.0 1521.8,632.4 1522.3,631.4 1522.9,631.9 1523.4,632.3 1523.9,630.9 1524.5,632.0 1525.0,632.2 1525.5,631.1 1526.1,633.2 1526.6,631.6 1527.1,632.7 1527.7,632.5 1528.2,632.4 1528.7,631.9 1529.3,631.9 1529.8,631.7 1530.3,631.8 1530.9,631.0 1531.4,630.8 1531.9,631.4 1532.4,631.4 1533.0,632.2 1533.5,632.7 1534.0,631.5 1534.6,631.9 1535.1,631.3 1535.6,633.2 1536.2,630.1 1536.7,632.8 1537.2,631.9 1537.8,631.2 1538.3,632.9 1538.8,632.3 1539.4,633.4 1539.9,633.0 1540.4,633.3 1541.0,631.9 1541.5,631.7 1542.0,632.2 1542.6,631.1 1543.1,631.0 1543.6,631.9 1544.2,632.1 1544.7,632.1 1545.2,632.3 1545.8,631.0 1546.3,631.8 1546.8,632.2 1547.4,632.1 1547.9,631.6 1548.4,632.2 1549.0,631.7 1549.5,632.0 1550.0,631.0 1550.6,631.1 1551.1,632.9 1551.6,632.1 1552.2,631.4 1552.7,632.3 1553.2,631.4 1553.8,631.7 1554.3,631.5 1554.8,632.0 1555.4,631.7 1555.9,631.6 1556.4,633.0 1557.0,632.6 1557.5,632.6 1558.0,630.7 1558.6,631.7 1559.1,631.7 1559.6,631.8 1560.2,632.3 1560.7,632.5 1561.2,631.3 1561.7,632.2 1562.3,630.8 1562.8,631.8 1563.3,631.9 1563.9,632.1 1564.4,632.0 1564.9,631.9 1565.5,630.8 1566.0,630.3 1566.5,632.7 1567.1,631.7 1567.6,631.4 1568.1,632.5 1568.7,632.3 1569.2,632.2 1569.7,633.6 1570.3,631.4 1570.8,631.9 1571.3,631.9 1571.9,631.8 1572.4,631.7 1572.9,630.2 1573.5,631.7 1574.0,631.3 1574.5,632.2 1575.1,631.6 1575.6,632.0 1576.1,631.9 1576.7,632.4 1577.2,632.3 1577.7,631.4 1578.3,631.2 1578.8,631.3 1579.3,632.1 1579.9,631.3 1580.4,633.3 1580.9,630.7 1581.5,631.3 1582.0,631.0 1582.5,630.2 1583.1,631.1 1583.6,629.8 1584.1,630.4 1584.7,629.2 1585.2,629.2 1585.7,627.7 1586.3,625.4 1586.8,624.7 1587.3,621.6 1587.9,617.0 1588.4,610.5 1588.9,601.6 1589.5,597.5 1590.0,595.7 1590.5,597.1 1591.0,603.8 1591.6,609.6 1592.1,614.4 1592.6,618.5 1593.2,620.0 1593.7,621.5 1594.2,620.6 1594.8,622.2 1595.3,622.7 1595.8,624.6 1596.4,627.6 1596.9,628.6 1597.4,629.2 1598.0,629.4 1598.5,631.6 1599.0,630.8 1599.6,629.7 1600.1,631.2 1600.6,631.2 1601.2,631.4 1601.7,632.3 1602.2,630.9 1602.8,631.4 1603.3,631.5 1603.8,631.2 1604.4,631.2 1604.9,633.1 1605.4,631.4 1606.0,632.2 1606.5,631.7 1607.0,632.3 1607.6,632.4 1608.1,631.2 1608.6,631.8 1609.2,632.0 1609.7,632.0 1610.2,631.8 1610.8,631.9 1611.3,633.5 1611.8,632.5 1612.4,632.0 1612.9,631.3 1613.4,630.9 1614.0,632.5 1614.5,630.5 1615.0,631.8 1615.6,631.5 1616.1,632.2 1616.6,632.3 1617.2,630.9 1617.7,632.0 1618.2,631.9 1618.7,631.1 1619.3,630.7 1619.8,632.9 1620.3,632.0 1620.9,631.9 1621.4,630.6 1621.9,630.1 1622.5,631.9 1623.0,631.6 1623.5,631.3 1624.1,631.1 1624.6,632.1 1625.1,631.3 1625.7,632.4 1626.2,633.7 1626.7,632.8 1627.3,631.7 1627.8,631.3 1628.3,633.5 1628.9,633.1 1629.4,631.9 1629.9,634.2 1630.5,631.5 1631.0,631.1 1631.5,634.0 1632.1,631.3 1632.6,632.0 1633.1,630.9 1633.7,631.7 1634.2,632.0 1634.7,631.8 1635.3,631.2 1635.8,631.7 1636.3,631.8 1636.9,632.9 1637.4,631.5 1637.9,631.8 1638.5,630.6 1639.0,631.9 1639.5,631.9 1640.1,632.3 1640.6,631.3 1641.1,632.0 1641.7,632.3 1642.2,630.7 1642.7,630.6 1643.3,632.2 1643.8,632.6 1644.3,631.0 1644.9,632.4 1645.4,629.9 1645.9,631.9 1646.5,631.2 1647.0,632.7 1647.5,631.9 1648.0,631.1 1648.6,631.5 1649.1,632.2 1649.6,630.1 1650.2,631.3 1650.7,632.0 1651.2,632.3 1651.8,632.0 1652.3,630.9 1652.8,632.4 1653.4,631.8 1653.9,632.4 1654.4,630.9 1655.0,631.9 1655.5,631.2 1656.0,631.4 1656.6,632.2 1657.1,631.3 1657.6,631.1 1658.2,632.6 1658.7,631.3 1659.2,629.3 1659.8,632.0 1660.3,631.3 1660.8,632.6 1661.4,631.3 1661.9,631.9 1662.4,630.8 1663.0,630.9 1663.5,630.9 1664.0,627.4 1664.6,624.9 1665.1,623.1 1665.6,624.7 1666.2,628.8 1666.7,629.7 1667.2,630.8 1667.8,631.4 1668.3,630.7 1668.8,631.8 1669.4,629.6 1669.9,631.3 1670.4,629.3 1671.0,630.9 1671.5,631.6 1672.0,632.1 1672.6,631.3 1673.1,631.9 1673.6,631.9 1674.2,631.1 1674.7,632.1 1675.2,632.0 1675.8,631.5 1676.3,631.1 1676.8,631.9 1677.3,631.7 1677.9,631.8 1678.4,631.3 1678.9,630.8 1679.5,632.5 1680.0,631.9 1680.5,631.9 1681.1,631.4 1681.6,630.8 1682.1,631.8 1682.7,631.7 1683.2,631.0 1683.7,632.7 1684.3,632.4 1684.8,632.1 1685.3,631.8 1685.9,631.7 1686.4,632.2 1686.9,630.6 1687.5,632.3 1688.0,631.9 1688.5,631.0 1689.1,631.2 1689.6,631.8 1690.1,631.5 1690.7,631.2 1691.2,631.8 1691.7,631.3 1692.3,632.4 1692.8,631.7 1693.3,632.9 1693.9,632.3 1694.4,632.5 1694.9,630.7 1695.5,631.9 1696.0,631.2 1696.5,632.0 1697.1,631.3 1697.6,631.2 1698.1,631.3 1698.7,629.6 1699.2,630.8 1699.7,628.3 1700.3,625.7 1700.8,626.8 1701.3,625.0 1701.9,625.7 1702.4,625.0 1702.9,627.3 1703.5,626.9 1704.0,628.8 1704.5,630.4 1705.1,630.4 1705.6,630.8 1706.1,629.9 1706.6,629.2 1707.2,630.3 1707.7,631.2 1708.2,631.3 1708.8,630.9 1709.3,633.0 1709.8,631.0 1710.4,631.2 1710.9,633.4 1711.4,630.8 1712.0,632.9 1712.5,631.9 1713.0,630.9 1713.6,633.0 1714.1,633.1 1714.6,632.6 1715.2,632.6 1715.7,632.0 1716.2,632.2 1716.8,632.2 1717.3,632.2 1717.8,632.0 1718.4,632.5 1718.9,631.7 1719.4,631.9 1720.0,632.6 1720.5,630.6 1721.0,632.8 1721.6,631.4 1722.1,632.4 1722.6,631.6 1723.2,631.5 1723.7,631.3 1724.2,630.9 1724.8,632.5 1725.3,629.9 1725.8,631.6 1726.4,632.5 1726.9,632.9 1727.4,630.2 1728.0,630.7 1728.5,631.9 1729.0,631.3 1729.6,631.0 1730.1,631.8 1730.6,632.2 1731.2,631.9 1731.7,631.3 1732.2,631.9 1732.8,632.8 1733.3,631.3 1733.8,633.1 1734.4,632.4 1734.9,631.0 1735.4,631.7 1735.9,631.7 1736.5,631.8 1737.0,631.2 1737.5,631.9 1738.1,633.3 1738.6,631.7 1739.1,634.1 1739.7,633.4 1740.2,630.8 1740.7,631.1 1741.3,632.2 1741.8,631.9 1742.3,631.8 1742.9,631.2 1743.4,632.4 1743.9,632.5 1744.5,632.3 1745.0,631.8 1745.5,631.7 1746.1,632.2 1746.6,631.4 1747.1,632.6 1747.7,631.9 1748.2,632.4 1748.7,632.6 1749.3,631.0 1749.8,632.1 1750.3,632.6 1750.9,631.9 1751.4,632.6 1751.9,631.5 1752.5,631.3 1753.0,631.2 1753.5,632.7 1754.1,632.0 1754.6,630.6 1755.1,632.0 1755.7,631.0 1756.2,630.8 1756.7,632.9 1757.3,631.0 1757.8,631.4 1758.3,631.3 1758.9,630.7 1759.4,631.6 1759.9,631.8 1760.5,631.5 1761.0,632.1 1761.5,631.5 1762.1,633.3 1762.6,630.7 1763.1,632.3 1763.6,631.5 1764.2,631.7 1764.7,631.8 1765.2,631.8 1765.8,631.8 1766.3,633.1 1766.8,632.3 1767.4,631.0 1767.9,632.6 1768.4,632.6 1769.0,630.4 1769.5,631.0 1770.0,630.8 1770.6,631.9 1771.1,631.7 1771.6,631.3 1772.2,631.5 1772.7,632.0 1773.2,632.9 1773.8,632.4 1774.3,633.0 1774.8,630.8 1775.4,632.2 1775.9,632.0 1776.4,631.7 1777.0,631.9 1777.5,631.5 1778.0,632.3 1778.6,633.0 1779.1,630.7 1779.6,632.4 1780.2,632.2 1780.7,632.5 1781.2,632.3 1781.8,631.9 1782.3,631.4 1782.8,632.7 1783.4,631.7 1783.9,632.4 1784.4,631.1 1785.0,632.8 1785.5,631.8 1786.0,631.4 1786.6,632.9 1787.1,631.8 1787.6,631.8 1788.2,632.5 1788.7,632.1 1789.2,631.2 1789.8,631.7 1790.3,632.2 1790.8,632.0 1791.4,631.6 1791.9,631.0 1792.4,631.3 1792.9,631.4 1793.5,630.8 1794.0,633.0 1794.5,632.9 1795.1,633.5 1795.6,631.3 1796.1,633.5 1796.7,631.9 1797.2,631.3 1797.7,632.8 1798.3,632.3 1798.8,632.0 1799.3,631.3 1799.9,632.9 1800.4,631.5 1800.9,631.2 1801.5,631.6 1802.0,631.5 1802.5,630.7 1803.1,631.3 1803.6,631.4 1804.1,631.5 1804.7,630.6 1805.2,631.1 1805.7,630.1 1806.3,630.0 1806.8,628.6 1807.3,629.1 1807.9,627.2 1808.4,625.2 1808.9,622.8 1809.5,619.7 1810.0,617.9 1810.5,616.6 1811.1,616.7 1811.6,619.6 1812.1,623.4 1812.7,625.8 1813.2,625.9 1813.7,627.5 1814.3,627.5 1814.8,627.9 1815.3,626.9 1815.9,627.1 1816.4,629.2 1816.9,628.9 1817.5,629.9 1818.0,631.2 1818.5,630.2 1819.1,631.1 1819.6,630.9 1820.1,629.6 1820.7,630.6 1821.2,630.8 1821.7,631.9 1822.2,632.5 1822.8,630.9 1823.3,632.0 1823.8,631.8 1824.4,632.1 1824.9,631.8 1825.4,630.2 1826.0,632.1 1826.5,632.1 1827.0,631.7 1827.6,631.7 1828.1,632.7 1828.6,633.1 1829.2,632.3 1829.7,632.0 1830.2,632.4 1830.8,632.6 1831.3,632.6 1831.8,632.2 1832.4,632.0 1832.9,633.1 1833.4,632.3 1834.0,631.7 1834.5,632.0 1835.0,632.9 1835.6,632.2 1836.1,631.9 1836.6,631.4 1837.2,633.1 1837.7,631.4 1838.2,632.2 1838.8,631.8 1839.3,631.4 1839.8,632.5 1840.4,632.5 1840.9,632.0 1841.4,631.4 1842.0,632.3 1842.5,632.9 1843.0,632.4 1843.6,631.6 1844.1,631.0 1844.6,632.2 1845.2,632.1 1845.7,632.0 1846.2,631.9 1846.8,632.5 1847.3,632.1 1847.8,631.6 1848.4,631.7 1848.9,631.7 1849.4,632.4 1850.0,632.0 1850.5,632.1 1851.0,630.8 1851.5,630.5 1852.1,631.2 1852.6,630.2 1853.1,631.5 1853.7,631.3 1854.2,631.9 1854.7,630.6 1855.3,630.8 1855.8,630.2 1856.3,629.5 1856.9,629.5 1857.4,629.4 1857.9,627.7 1858.5,626.4 1859.0,624.6 1859.5,621.6 1860.1,618.7 1860.6,613.7 1861.1,605.5 1861.7,597.1 1862.2,588.1 1862.7,580.2 1863.3,576.4 1863.8,578.9 1864.3,586.6 1864.9,594.8 1865.4,604.7 1865.9,610.4 1866.5,614.4 1867.0,616.0 1867.5,616.9 1868.1,617.3 1868.6,616.1 1869.1,617.9 1869.7,619.2 1870.2,622.9 1870.7,624.6 1871.3,626.1 1871.8,629.2 1872.3,629.8 1872.9,629.0 1873.4,630.0 1873.9,631.7 1874.5,631.2 1875.0,631.7 1875.5,631.4 1876.1,630.2 1876.6,631.7 1877.1,630.0 1877.7,631.7 1878.2,632.1 1878.7,630.5 1879.2,631.0 1879.8,630.7 1880.3,630.4 1880.8,631.0 1881.4,630.9 1881.9,633.0 1882.4,632.3 1883.0,631.5 1883.5,631.7 1884.0,631.3 1884.6,632.1 1885.1,631.1 1885.6,630.4 1886.2,631.4 1886.7,631.3 1887.2,631.5 1887.8,631.2 1888.3,631.7 1888.8,632.2 1889.4,631.7 1889.9,631.8 1890.4,632.9 1891.0,631.7 1891.5,631.8 1892.0,631.7 1892.6,632.2 1893.1,631.5 1893.6,631.4 1894.2,632.4 1894.7,631.6 1895.2,631.3 1895.8,631.4 1896.3,632.5 1896.8,632.6 1897.4,631.9 1897.9,632.6 1898.4,630.1 1899.0,632.4 1899.5,632.4 1900.0,631.4 1900.6,632.2 1901.1,633.5 1901.6,632.0 1902.2,632.6 1902.7,632.2 1903.2,633.0 1903.8,632.5 1904.3,632.0 1904.8,631.9 1905.4,632.6 1905.9,632.3 1906.4,632.4 1907.0,631.7 1907.5,631.8 1908.0,632.5 1908.5,631.2 1909.1,632.0 1909.6,631.1 1910.1,631.9 1910.7,630.9 1911.2,630.9 1911.7,630.4 1912.3,629.6 1912.8,628.9 1913.3,628.1 1913.9,626.7 1914.4,626.0 1914.9,623.2 1915.5,623.1 1916.0,622.4 1916.5,621.7 1917.1,623.2 1917.6,623.8 1918.1,626.0 1918.7,626.9 1919.2,628.7 1919.7,628.6 1920.3,628.2 1920.8,628.6 1921.3,628.7 1921.9,629.0 1922.4,630.1 1922.9,630.5 1923.5,631.4 1924.0,630.5 1924.5,631.2 1925.1,631.7 1925.6,631.2 1926.1,631.9 1926.7,630.9 1927.2,630.4 1927.7,631.4 1928.3,632.3 1928.8,632.8 1929.3,630.4 1929.9,631.5 1930.4,632.7 1930.9,631.1 1931.5,633.0 1932.0,632.2 1932.5,632.1 1933.1,632.2 1933.6,632.7 1934.1,630.3 1934.7,632.2 1935.2,631.7 1935.7,631.9 1936.3,633.0 1936.8,632.3 1937.3,631.8 1937.8,631.3 1938.4,632.2 1938.9,631.7 1939.4,632.2 1940.0,631.5 1940.5,633.7 1941.0,631.5 1941.6,632.4 1942.1,632.3 1942.6,633.9 1943.2,632.7 1943.7,631.5 1944.2,630.3 1944.8,632.4 1945.3,632.4 1945.8,631.6 1946.4,631.7 1946.9,632.4 1947.4,632.1 1948.0,632.2 1948.5,631.5 1949.0,631.4 1949.6,630.7 1950.1,631.3 1950.6,631.5 1951.2,631.8 1951.7,631.3 1952.2,632.6 1952.8,630.4 1953.3,631.8 1953.8,631.0 1954.4,632.5 1954.9,631.2 1955.4,631.7 1956.0,632.1 1956.5,632.4 1957.0,632.6 1957.6,630.7 1958.1,631.1 1958.6,631.9 1959.2,631.8 1959.7,632.5 1960.2,633.2 1960.8,633.2 1961.3,632.4 1961.8,632.1 1962.4,632.8 1962.9,631.4 1963.4,631.6 1964.0,631.8 1964.5,633.2 1965.0,632.1 1965.6,632.0 1966.1,632.8 1966.6,633.5 1967.1,630.6 1967.7,631.5 1968.2,632.2 1968.7,630.8 1969.3,631.2 1969.8,631.6 1970.3,631.8 1970.9,631.4 1971.4,630.9 1971.9,631.9 1972.5,632.1 1973.0,631.5 1973.5,633.9 1974.1,631.9 1974.6,632.2 1975.1,632.0 1975.7,632.1 1976.2,631.7 1976.7,631.9 1977.3,631.9 1977.8,632.0 1978.3,631.6 1978.9,632.3 1979.4,631.3 1979.9,633.1 1980.5,631.8 1981.0,631.6 1981.5,632.8 1982.1,632.2 1982.6,631.0 1983.1,632.0 1983.7,632.6 1984.2,634.0 1984.7,631.7 1985.3,631.9 1985.8,631.5 1986.3,630.5 1986.9,631.9 1987.4,631.9 1987.9,632.4 1988.5,632.0 1989.0,632.0 1989.5,631.4 1990.1,631.6 1990.6,632.5 1991.1,632.3 1991.7,631.0 1992.2,632.6 1992.7,631.4 1993.3,630.8 1993.8,631.5 1994.3,631.8 1994.9,631.0 1995.4,631.7 1995.9,631.9 1996.4,632.1 1997.0,631.1 1997.5,631.5 1998.0,630.9 1998.6,632.2 1999.1,632.2 1999.6,632.2 2000.2,631.7 2000.7,632.4 2001.2,631.3 2001.8,631.7 2002.3,632.6 2002.8,634.0 2003.4,633.2 2003.9,630.9 2004.4,631.9 2005.0,631.8 2005.5,632.2 2006.0,631.6 2006.6,633.2 2007.1,633.2 2007.6,632.9 2008.2,631.6 2008.7,631.1 2009.2,631.0 2009.8,630.9 2010.3,630.6 2010.8,627.0 2011.4,624.7 2011.9,624.5 2012.4,627.5 2013.0,629.9 2013.5,631.1 2014.0,631.4 2014.6,631.9 2015.1,630.8 2015.6,630.9 2016.2,629.6 2016.7,630.8 2017.2,627.6 2017.8,627.5 2018.3,627.4 2018.8,627.9 2019.4,628.2 2019.9,629.2 2020.4,628.3 2021.0,629.7 2021.5,629.6 2022.0,629.9 2022.6,631.1 2023.1,631.0 2023.6,631.2 2024.1,630.2 2024.7,630.8 2025.2,630.8 2025.7,630.5 2026.3,631.2 2026.8,629.9 2027.3,632.1 2027.9,630.7 2028.4,630.7 2028.9,632.5 2029.5,631.2 2030.0,631.6 2030.5,631.2 2031.1,632.7 2031.6,631.7 2032.1,632.6 2032.7,632.1 2033.2,630.9 2033.7,632.0 2034.3,633.5 2034.8,632.9 2035.3,632.7 2035.9,631.2 2036.4,632.4 2036.9,633.0 2037.5,631.1 2038.0,631.8 2038.5,631.7 2039.1,632.5 2039.6,630.9 2040.1,632.0 2040.7,633.3 2041.2,632.7 2041.7,632.5 2042.3,632.1 2042.8,631.4 2043.3,632.5 2043.9,632.4 2044.4,630.4 2044.9,631.9 2045.5,632.3 2046.0,631.9 2046.5,632.8 2047.1,631.6 2047.6,631.3 2048.1,632.4 2048.7,631.2 2049.2,632.1 2049.7,631.7 2050.3,632.5 2050.8,632.5 2051.3,633.0 2051.9,631.8 2052.4,632.1 2052.9,632.1 2053.4,632.7 2054.0,632.8 2054.5,632.4 2055.0,631.6 2055.6,631.7 2056.1,632.4 2056.6,631.7 2057.2,630.7 2057.7,631.9 2058.2,630.5 2058.8,631.6 2059.3,631.0 2059.8,632.3 2060.4,631.1 2060.9,632.8 2061.4,631.8 2062.0,632.2 2062.5,633.3 2063.0,632.9 2063.6,631.2 2064.1,631.6 2064.6,631.0 2065.2,631.8 2065.7,634.0 2066.2,631.8 2066.8,632.3 2067.3,632.3 2067.8,632.3 2068.4,632.5 2068.9,632.6 2069.4,631.1 2070.0,631.6 2070.5,632.4 2071.0,632.2 2071.6,631.3 2072.1,631.7 2072.6,631.8 2073.2,632.8 2073.7,632.3 2074.2,632.7 2074.8,633.3 2075.3,631.3 2075.8,632.2 2076.4,632.2 2076.9,632.6 2077.4,631.4 2078.0,630.5 2078.5,631.5 2079.0,631.3"/><polyline fill="none" stroke="#ff0000" stroke-width="6.0" stroke-linejoin="round" shape-rendering="crispEdges" points="214.5,1149.2 215.0,1149.4 215.6,1149.6 216.1,1151.2 216.6,1149.3 217.2,1151.1 217.7,1148.9 218.2,1149.1 218.8,1149.0 219.3,1149.0 219.8,1149.4 220.4,1149.9 220.9,1149.8 221.4,1148.5 222.0,1150.0 222.5,1149.7 223.0,1150.1 223.6,1149.9 224.1,1149.8 224.6,1149.4 225.2,1149.8 225.7,1149.8 226.2,1150.0 226.8,1149.5 227.3,1150.5 227.8,1149.5 228.4,1148.7 228.9,1150.1 229.4,1149.6 229.9,1147.6 230.5,1150.3 231.0,1150.7 231.5,1149.9 232.1,1148.3 232.6,1148.1 233.1,1150.4 233.7,1149.2 234.2,1149.6 234.7,1150.0 235.3,1150.9 235.8,1148.9 236.3,1150.2 236.9,1149.4 237.4,1149.5 237.9,1148.3 238.5,1148.7 239.0,1150.4 239.5,1149.8 240.1,1148.8 240.6,1150.5 241.1,1149.8 241.7,1149.4 242.2,1150.7 242.7,1150.4 243.3,1150.8 243.8,1149.4 244.3,1150.0 244.9,1148.9 245.4,1149.5 245.9,1149.2 246.5,1149.6 247.0,1149.0 247.5,1149.6 248.1,1150.3 248.6,1148.7 249.1,1148.9 249.7,1148.0 250.2,1149.7 250.7,1150.0 251.3,1150.6 251.8,1152.3 252.3,1150.5 252.9,1149.2 253.4,1150.2 253.9,1151.4 254.5,1149.1 255.0,1150.0 255.5,1149.8 256.1,1149.9 256.6,1149.7 257.1,1149.2 257.7,1150.8 258.2,1149.7 258.7,1149.9 259.2,1148.8 259.8,1150.3 260.3,1148.4 260.8,1149.1 261.4,1148.4 261.9,1150.1 262.4,1149.0 263.0,1149.3 263.5,1150.6 264.0,1149.8 264.6,1149.9 265.1,1150.2 265.6,1150.1 266.2,1150.6 266.7,1149.9 267.2,1149.3 267.8,1150.1 268.3,1150.7 268.8,1148.8 269.4,1149.8 269.9,1149.5 270.4,1149.7 271.0,1149.9 271.5,1149.1 272.0,1149.9 272.6,1149.5 273.1,1150.6 273.6,1150.7 274.2,1149.8 274.7,1148.2 275.2,1149.4 275.8,1148.2 276.3,1149.2 276.8,1149.2 277.4,1150.0 277.9,1149.6 278.4,1148.3 279.0,1148.7 279.5,1150.0 280.0,1149.9 280.6,1148.6 281.1,1149.9 281.6,1148.9 282.2,1150.2 282.7,1149.1 283.2,1148.5 283.8,1149.0 284.3,1149.4 284.8,1149.5 285.4,1149.6 285.9,1149.6 286.4,1148.7 286.9,1148.8 287.5,1149.3 288.0,1150.4 288.5,1149.9 289.1,1149.4 289.6,1149.5 290.1,1150.5 290.7,1149.1 291.2,1147.7 291.7,1150.4 292.3,1149.5 292.8,1148.4 293.3,1149.9 293.9,1149.8 294.4,1149.4 294.9,1149.2 295.5,1149.8 296.0,1148.9 296.5,1150.9 297.1,1149.1 297.6,1149.3 298.1,1149.7 298.7,1149.3 299.2,1149.5 299.7,1148.6 300.3,1149.9 300.8,1149.6 301.3,1150.5 301.9,1150.3 302.4,1149.7 302.9,1150.6 303.5,1150.2 304.0,1150.5 304.5,1149.9 305.1,1149.5 305.6,1148.9 306.1,1150.9 306.7,1149.7 307.2,1149.0 307.7,1148.6 308.3,1148.6 308.8,1150.6 309.3,1149.9 309.9,1149.2 310.4,1148.9 310.9,1149.4 311.5,1149.4 312.0,1149.4 312.5,1150.1 313.1,1149.4 313.6,1149.0 314.1,1149.8 314.7,1148.7 315.2,1151.5 315.7,1149.8 316.2,1148.4 316.8,1148.9 317.3,1148.5 317.8,1149.5 318.4,1150.4 318.9,1149.9 319.4,1148.5 320.0,1150.8 320.5,1150.2 321.0,1150.8 321.6,1149.9 322.1,1149.9 322.6,1149.1 323.2,1150.1 323.7,1148.4 324.2,1149.1 324.8,1149.9 325.3,1150.2 325.8,1150.6 326.4,1149.5 326.9,1148.2 327.4,1149.7 328.0,1150.3 328.5,1149.6 329.0,1149.9 329.6,1150.2 330.1,1150.9 330.6,1149.6 331.2,1148.5 331.7,1148.7 332.2,1148.9 332.8,1149.4 333.3,1149.2 333.8,1148.8 334.4,1149.6 334.9,1149.4 335.4,1149.8 336.0,1148.8 336.5,1150.2 337.0,1149.1 337.6,1148.9 338.1,1149.0 338.6,1149.0 339.2,1149.9 339.7,1149.9 340.2,1149.8 340.8,1149.8 341.3,1150.3 341.8,1149.9 342.4,1150.0 342.9,1150.2 343.4,1149.3 344.0,1150.1 344.5,1149.4 345.0,1148.5 345.5,1148.4 346.1,1149.5 346.6,1148.8 347.1,1149.4 347.7,1147.9 348.2,1148.4 348.7,1148.8 349.3,1149.6 349.8,1149.7 350.3,1149.2 350.9,1149.6 351.4,1149.7 351.9,1149.0 352.5,1150.4 353.0,1150.9 353.5,1150.2 354.1,1150.3 354.6,1149.6 355.1,1150.1 355.7,1149.7 356.2,1151.0 356.7,1148.5 357.3,1149.3 357.8,1150.1 358.3,1149.3 358.9,1148.7 359.4,1148.9 359.9,1149.6 360.5,1149.1 361.0,1148.9 361.5,1150.4 362.1,1150.5 362.6,1150.0 363.1,1148.8 363.7,1148.5 364.2,1149.4 364.7,1148.5 365.3,1148.8 365.8,1149.6 366.3,1150.1 366.9,1150.0 367.4,1149.5 367.9,1148.5 368.5,1148.9 369.0,1150.5 369.5,1150.4 370.1,1149.0 370.6,1149.4 371.1,1150.2 371.7,1149.1 372.2,1148.6 372.7,1149.0 373.3,1149.5 373.8,1148.6 374.3,1149.8 374.8,1149.9 375.4,1150.2 375.9,1148.2 376.4,1148.0 377.0,1149.6 377.5,1149.1 378.0,1149.2 378.6,1148.9 379.1,1148.7 379.6,1149.0 380.2,1149.6 380.7,1149.9 381.2,1150.2 381.8,1151.4 382.3,1149.6 382.8,1150.1 383.4,1149.5 383.9,1149.6 384.4,1150.2 385.0,1149.9 385.5,1149.2 386.0,1149.4 386.6,1150.1 387.1,1150.1 387.6,1149.1 388.2,1149.4 388.7,1149.3 389.2,1149.6 389.8,1149.0 390.3,1149.5 390.8,1147.7 391.4,1149.9 391.9,1150.0 392.4,1148.4 393.0,1149.6 393.5,1150.1 394.0,1149.2 394.6,1151.1 395.1,1149.2 395.6,1149.5 396.2,1149.3 396.7,1150.1 397.2,1148.6 397.8,1149.3 398.3,1149.5 398.8,1149.3 399.4,1150.1 399.9,1149.6 400.4,1150.6 401.0,1150.3 401.5,1149.3 402.0,1149.4 402.6,1149.0 403.1,1150.0 403.6,1149.6 404.1,1150.0 404.7,1149.3 405.2,1149.0 405.7,1148.8 406.3,1149.1 406.8,1150.1 407.3,1149.4 407.9,1150.2 408.4,1150.9 408.9,1149.4 409.5,1149.5 410.0,1149.0 410.5,1148.9 411.1,1150.4 411.6,1150.2 412.1,1149.5 412.7,1149.5 413.2,1149.2 413.7,1150.4 414.3,1149.7 414.8,1149.1 415.3,1148.2 415.9,1150.4 416.4,1148.4 416.9,1149.7 417.5,1150.5 418.0,1148.6 418.5,1150.3 419.1,1150.3 419.6,1149.0 420.1,1148.8 420.7,1149.5 421.2,1150.0 421.7,1150.6 422.3,1149.5 422.8,1151.2 423.3,1150.6 423.9,1148.8 424.4,1149.1 424.9,1148.7 425.5,1149.2 426.0,1150.3 426.5,1149.2 427.1,1150.8 427.6,1149.1 428.1,1148.6 428.7,1150.2 429.2,1148.8 429.7,1149.5 430.3,1149.7 430.8,1150.9 431.3,1149.6 431.8,1148.9 432.4,1150.7 432.9,1149.9 433.4,1150.0 434.0,1150.7 434.5,1148.8 435.0,1149.5 435.6,1149.5 436.1,1148.9 436.6,1150.1 437.2,1147.3 437.7,1149.9 438.2,1150.3 438.8,1149.1 439.3,1149.3 439.8,1150.2 440.4,1150.2 440.9,1148.9 441.4,1149.3 442.0,1149.2 442.5,1148.9 443.0,1149.9 443.6,1148.6 444.1,1149.5 444.6,1149.0 445.2,1150.1 445.7,1149.0 446.2,1149.3 446.8,1147.8 447.3,1149.6 447.8,1148.4 448.4,1149.0 448.9,1148.4 449.4,1149.3 450.0,1149.1 450.5,1151.0 451.0,1150.4 451.6,1148.8 452.1,1149.2 452.6,1148.9 453.2,1149.7 453.7,1148.9 454.2,1149.7 454.8,1149.5 455.3,1148.6 455.8,1148.7 456.4,1149.8 456.9,1149.4 457.4,1149.3 458.0,1149.6 458.5,1149.5 459.0,1150.1 459.6,1149.1 460.1,1150.2 460.6,1150.1 461.1,1148.6 461.7,1148.2 462.2,1148.2 462.7,1149.2 463.3,1149.8 463.8,1148.9 464.3,1148.4 464.9,1149.4 465.4,1149.7 465.9,1150.6 466.5,1150.6 467.0,1148.3 467.5,1150.5 468.1,1149.9 468.6,1149.7 469.1,1149.3 469.7,1150.4 470.2,1149.1 470.7,1149.1 471.3,1149.4 471.8,1149.9 472.3,1149.7 472.9,1150.8 473.4,1149.0 473.9,1149.8 474.5,1150.4 475.0,1149.5 475.5,1149.1 476.1,1149.2 476.6,1149.0 477.1,1148.6 477.7,1149.8 478.2,1149.3 478.7,1149.3 479.3,1150.5 479.8,1148.7 480.3,1149.7 480.9,1149.3 481.4,1149.3 481.9,1150.0 482.5,1148.9 483.0,1148.8 483.5,1149.3 484.1,1151.5 484.6,1148.5 485.1,1149.6 485.7,1149.9 486.2,1149.9 486.7,1150.2 487.3,1149.7 487.8,1149.0 488.3,1150.2 488.9,1149.3 489.4,1149.8 489.9,1149.6 490.4,1149.7 491.0,1149.2 491.5,1148.7 492.0,1149.4 492.6,1148.7 493.1,1148.3 493.6,1150.3 494.2,1148.8 494.7,1149.5 495.2,1149.4 495.8,1148.5 496.3,1149.3 496.8,1149.5 497.4,1148.1 497.9,1148.2 498.4,1148.4 499.0,1146.5 499.5,1148.9 500.0,1148.9 500.6,1147.3 501.1,1146.9 501.6,1144.2 502.2,1142.1 502.7,1137.2 503.2,1127.9 503.8,1113.3 504.3,1093.7 504.8,1080.2 505.4,1086.3 505.9,1102.2 506.4,1115.7 507.0,1126.9 507.5,1135.8 508.0,1141.5 508.6,1144.9 509.1,1145.8 509.6,1146.0 510.2,1146.8 510.7,1147.5 511.2,1149.1 511.8,1148.3 512.3,1148.4 512.8,1148.1 513.4,1149.9 513.9,1149.6 514.4,1149.1 515.0,1149.1 515.5,1149.6 516.0,1148.9 516.6,1149.5 517.1,1148.5 517.6,1149.6 518.2,1149.2 518.7,1150.8 519.2,1149.2 519.7,1149.8 520.3,1148.8 520.8,1149.5 521.3,1148.5 521.9,1149.7 522.4,1150.3 522.9,1149.2 523.5,1148.9 524.0,1149.9 524.5,1150.3 525.1,1148.8 525.6,1148.6 526.1,1148.8 526.7,1149.3 527.2,1149.3 527.7,1148.2 528.3,1148.8 528.8,1150.0 529.3,1150.1 529.9,1148.9 530.4,1148.8 530.9,1149.8 531.5,1149.9 532.0,1148.7 532.5,1149.6 533.1,1148.8 533.6,1150.1 534.1,1150.0 534.7,1150.5 535.2,1149.4 535.7,1149.6 536.3,1150.5 536.8,1149.2 537.3,1149.7 537.9,1149.5 538.4,1148.3 538.9,1148.6 539.5,1149.0 540.0,1149.5 540.5,1150.1 541.1,1149.8 541.6,1149.6 542.1,1148.4 542.7,1150.0 543.2,1149.7 543.7,1149.3 544.3,1149.0 544.8,1148.5 545.3,1148.4 545.9,1149.4 546.4,1147.9 546.9,1148.8 547.4,1149.8 548.0,1150.0 548.5,1149.6 549.0,1149.5 549.6,1148.7 550.1,1149.8 550.6,1149.7 551.2,1149.9 551.7,1149.1 552.2,1150.3 552.8,1148.9 553.3,1149.8 553.8,1149.4 554.4,1149.0 554.9,1149.0 555.4,1147.3 556.0,1149.9 556.5,1150.7 557.0,1150.2 557.6,1148.7 558.1,1150.0 558.6,1148.5 559.2,1149.4 559.7,1148.7 560.2,1150.3 560.8,1148.5 561.3,1148.4 561.8,1149.9 562.4,1148.3 562.9,1147.4 563.4,1149.2 564.0,1149.9 564.5,1149.6 565.0,1149.4 565.6,1148.5 566.1,1147.9 566.6,1149.5 567.2,1149.3 567.7,1150.1 568.2,1149.5 568.8,1148.8 569.3,1150.6 569.8,1148.7 570.4,1148.5 570.9,1148.3 571.4,1149.5 572.0,1150.2 572.5,1149.3 573.0,1149.9 573.6,1150.4 574.1,1149.7 574.6,1150.1 575.2,1147.8 575.7,1148.6 576.2,1148.5 576.7,1149.9 577.3,1148.1 577.8,1149.3 578.3,1148.5 578.9,1149.8 579.4,1148.6 579.9,1150.2 580.5,1149.2 581.0,1149.2 581.5,1150.0 582.1,1149.0 582.6,1149.4 583.1,1149.3 583.7,1148.5 584.2,1148.1 584.7,1149.1 585.3,1148.1 585.8,1148.3 586.3,1148.5 586.9,1147.9 587.4,1150.0 587.9,1148.0 588.5,1148.7 589.0,1149.2 589.5,1149.1 590.1,1148.2 590.6,1148.1 591.1,1148.4 591.7,1149.7 592.2,1149.9 592.7,1148.9 593.3,1148.4 593.8,1149.4 594.3,1148.3 594.9,1148.4 595.4,1148.5 595.9,1149.4 596.5,1148.0 597.0,1148.1 597.5,1147.9 598.1,1148.5 598.6,1149.7 599.1,1148.5 599.7,1148.2 600.2,1148.9 600.7,1149.6 601.3,1148.4 601.8,1148.3 602.3,1149.6 602.9,1149.2 603.4,1149.7 603.9,1148.5 604.5,1148.6 605.0,1147.5 605.5,1149.3 606.0,1147.7 606.6,1148.8 607.1,1148.4 607.6,1149.5 608.2,1148.6 608.7,1148.9 609.2,1148.6 609.8,1148.4 610.3,1148.2 610.8,1147.9 611.4,1148.5 611.9,1149.1 612.4,1147.8 613.0,1148.4 613.5,1148.9 614.0,1147.5 614.6,1148.2 615.1,1147.9 615.6,1149.5 616.2,1148.8 616.7,1146.9 617.2,1148.0 617.8,1147.9 618.3,1148.8 618.8,1148.3 619.4,1148.0 619.9,1148.2 620.4,1148.2 621.0,1149.4 621.5,1148.7 622.0,1148.4 622.6,1147.7 623.1,1147.7 623.6,1148.0 624.2,1148.5 624.7,1148.4 625.2,1147.7 625.8,1148.8 626.3,1148.0 626.8,1148.0 627.4,1147.9 627.9,1146.6 628.4,1147.8 629.0,1147.0 629.5,1146.5 630.0,1147.2 630.6,1147.5 631.1,1148.3 631.6,1146.2 632.2,1148.1 632.7,1148.6 633.2,1146.4 633.8,1148.1 634.3,1147.8 634.8,1147.4 635.3,1147.7 635.9,1148.2 636.4,1146.5 636.9,1146.2 637.5,1145.9 638.0,1146.3 638.5,1146.4 639.1,1146.4 639.6,1145.0 640.1,1145.1 640.7,1145.8 641.2,1145.1 641.7,1146.0 642.3,1144.6 642.8,1145.5 643.3,1144.6 643.9,1144.4 644.4,1145.9 644.9,1143.2 645.5,1143.4 646.0,1143.7 646.5,1143.3 647.1,1142.5 647.6,1142.2 648.1,1141.4 648.7,1141.2 649.2,1140.4 649.7,1140.2 650.3,1140.9 650.8,1140.4 651.3,1138.6 651.9,1138.1 652.4,1137.8 652.9,1138.1 653.5,1137.0 654.0,1136.5 654.5,1134.7 655.1,1135.1 655.6,1134.7 656.1,1133.5 656.7,1132.0 657.2,1130.3 657.7,1130.9 658.3,1128.9 658.8,1129.1 659.3,1128.1 659.9,1127.5 660.4,1125.3 660.9,1125.2 661.5,1123.2 662.0,1123.1 662.5,1120.5 663.1,1120.5 663.6,1119.5 664.1,1119.2 664.6,1116.4 665.2,1115.9 665.7,1114.9 666.2,1113.8 666.8,1113.0 667.3,1111.8 667.8,1110.0 668.4,1109.7 668.9,1108.0 669.4,1105.2 670.0,1105.7 670.5,1104.7 671.0,1102.8 671.6,1103.0 672.1,1100.3 672.6,1100.2 673.2,1100.0 673.7,1098.4 674.2,1097.8 674.8,1096.0 675.3,1096.0 675.8,1094.4 676.4,1095.6 676.9,1093.9 677.4,1092.6 678.0,1092.2 678.5,1092.1 679.0,1091.2 679.6,1090.9 680.1,1091.3 680.6,1091.0 681.2,1090.5 681.7,1091.0 682.2,1093.0 682.8,1092.6 683.3,1092.2 683.8,1091.6 684.4,1092.5 684.9,1092.6 685.4,1092.9 686.0,1093.9 686.5,1095.6 687.0,1095.1 687.6,1097.4 688.1,1098.3 688.6,1098.6 689.2,1100.8 689.7,1099.1 690.2,1099.6 690.8,1102.5 691.3,1103.7 691.8,1106.0 692.3,1105.3 692.9,1107.3 693.4,1108.8 693.9,1110.1 694.5,1110.4 695.0,1111.6 695.5,1112.8 696.1,1114.3 696.6,1116.2 697.1,1115.2 697.7,1116.8 698.2,1118.9 698.7,1120.5 699.3,1121.4 699.8,1121.3 700.3,1122.5 700.9,1123.7 701.4,1124.1 701.9,1126.3 702.5,1125.9 703.0,1127.7 703.5,1129.3 704.1,1129.3 704.6,1130.3 705.1,1131.9 705.7,1131.0 706.2,1134.1 706.7,1133.6 707.3,1134.2 707.8,1135.7 708.3,1135.8 708.9,1135.6 709.4,1137.9 709.9,1138.5 710.5,1138.6 711.0,1138.5 711.5,1138.6 712.1,1139.5 712.6,1141.2 713.1,1140.1 713.7,1140.8 714.2,1141.0 714.7,1143.2 715.3,1143.6 715.8,1143.2 716.3,1143.4 716.9,1143.4 717.4,1144.5 717.9,1144.7 718.5,1144.0 719.0,1146.0 719.5,1145.6 720.1,1144.9 720.6,1144.6 721.1,1145.1 721.6,1144.4 722.2,1145.5 722.7,1145.3 723.2,1145.4 723.8,1146.1 724.3,1147.2 724.8,1146.6 725.4,1146.6 725.9,1147.2 726.4,1146.2 727.0,1147.1 727.5,1147.9 728.0,1146.9 728.6,1147.6 729.1,1146.6 729.6,1148.8 730.2,1148.2 730.7,1147.0 731.2,1146.8 731.8,1146.9 732.3,1145.8 732.8,1146.9 733.4,1146.8 733.9,1145.6 734.4,1146.0 735.0,1144.8 735.5,1143.2 736.0,1142.6 736.6,1140.0 737.1,1136.1 737.6,1128.3 738.2,1116.1 738.7,1097.2 739.2,1075.4 739.8,1062.3 740.3,1071.6 740.8,1089.0 741.4,1103.3 741.9,1112.7 742.4,1123.4 743.0,1132.1 743.5,1138.6 744.0,1141.4 744.6,1143.0 745.1,1146.8 745.6,1146.7 746.2,1147.2 746.7,1147.6 747.2,1147.3 747.8,1147.9 748.3,1147.7 748.8,1147.7 749.4,1147.1 749.9,1148.3 750.4,1148.0 750.9,1148.4 751.5,1148.2 752.0,1148.6 752.5,1149.2 753.1,1148.2 753.6,1147.7 754.1,1149.2 754.7,1148.6 755.2,1148.6 755.7,1150.0 756.3,1147.3 756.8,1147.6 757.3,1147.8 757.9,1148.0 758.4,1149.3 758.9,1150.4 759.5,1148.7 760.0,1148.7 760.5,1148.9 761.1,1149.0 761.6,1148.1 762.1,1148.2 762.7,1148.8 763.2,1149.1 763.7,1147.2 764.3,1148.2 764.8,1148.8 765.3,1149.7 765.9,1149.9 766.4,1150.8 766.9,1149.0 767.5,1148.7 768.0,1149.0 768.5,1148.9 769.1,1148.7 769.6,1148.3 770.1,1150.1 770.7,1149.8 771.2,1148.3 771.7,1148.7 772.3,1148.6 772.8,1149.6 773.3,1147.9 773.9,1148.9 774.4,1149.1 774.9,1149.6 775.5,1148.9 776.0,1148.9 776.5,1149.1 777.1,1147.9 777.6,1148.2 778.1,1149.0 778.7,1149.4 779.2,1149.3 779.7,1148.8 780.2,1150.9 780.8,1148.8 781.3,1149.2 781.8,1147.5 782.4,1148.7 782.9,1149.1 783.4,1149.0 784.0,1149.5 784.5,1149.5 785.0,1149.1 785.6,1150.4 786.1,1149.0 786.6,1150.2 787.2,1149.5 787.7,1149.6 788.2,1148.6 788.8,1148.0 789.3,1148.1 789.8,1149.4 790.4,1149.2 790.9,1149.0 791.4,1148.9 792.0,1148.3 792.5,1148.6 793.0,1149.0 793.6,1147.7 794.1,1148.4 794.6,1147.7 795.2,1149.1 795.7,1148.6 796.2,1148.8 796.8,1148.9 797.3,1149.7 797.8,1148.8 798.4,1150.0 798.9,1148.7 799.4,1147.7 800.0,1148.1 800.5,1148.7 801.0,1149.1 801.6,1148.3 802.1,1149.6 802.6,1149.6 803.2,1149.7 803.7,1148.5 804.2,1149.6 804.8,1148.2 805.3,1147.9 805.8,1148.0 806.4,1148.5 806.9,1148.0 807.4,1149.0 808.0,1147.9 808.5,1146.8 809.0,1146.8 809.5,1148.7 810.1,1147.4 810.6,1147.4 811.1,1146.2 811.7,1146.4 812.2,1146.3 812.7,1146.4 813.3,1145.5 813.8,1145.4 814.3,1145.0 814.9,1145.0 815.4,1145.6 815.9,1144.4 816.5,1144.4 817.0,1144.7 817.5,1144.8 818.1,1144.3 818.6,1144.6 819.1,1144.4 819.7,1145.2 820.2,1145.3 820.7,1145.9 821.3,1146.8 821.8,1146.9 822.3,1145.7 822.9,1145.8 823.4,1145.4 823.9,1147.1 824.5,1145.3 825.0,1144.6 825.5,1144.3 826.1,1143.4 826.6,1143.5 827.1,1141.0 827.7,1138.3 828.2,1137.7 828.7,1133.5 829.3,1130.3 829.8,1124.0 830.3,1115.2 830.9,1104.8 831.4,1088.0 831.9,1063.1 832.5,1026.5 833.0,970.2 833.5,893.6 834.1,792.7 834.6,697.0 835.1,648.0 835.7,672.0 836.2,744.8 836.7,820.7 837.2,884.2 837.8,942.2 838.3,992.1 838.8,1038.0 839.4,1070.2 839.9,1094.5 840.4,1108.3 841.0,1119.2 841.5,1126.0 842.0,1131.6 842.6,1135.8 843.1,1139.6 843.6,1139.8 844.2,1142.5 844.7,1144.5 845.2,1144.0 845.8,1146.4 846.3,1146.1 846.8,1147.7 847.4,1146.9 847.9,1148.2 848.4,1145.3 849.0,1146.8 849.5,1147.5 850.0,1147.7 850.6,1147.7 851.1,1147.7 851.6,1148.2 852.2,1149.3 852.7,1148.5 853.2,1149.8 853.8,1149.0 854.3,1148.5 854.8,1149.6 855.4,1148.6 855.9,1149.3 856.4,1147.3 857.0,1149.3 857.5,1148.7 858.0,1148.7 858.6,1149.0 859.1,1148.9 859.6,1149.4 860.2,1149.1 860.7,1149.1 861.2,1148.6 861.8,1148.3 862.3,1149.3 862.8,1148.3 863.4,1149.3 863.9,1149.9 864.4,1149.6 865.0,1149.7 865.5,1149.4 866.0,1149.2 866.5,1149.1 867.1,1148.5 867.6,1148.8 868.1,1149.6 868.7,1148.9 869.2,1149.4 869.7,1148.8 870.3,1148.5 870.8,1149.4 871.3,1148.8 871.9,1148.4 872.4,1149.1 872.9,1150.1 873.5,1149.4 874.0,1150.0 874.5,1148.7 875.1,1149.2 875.6,1149.2 876.1,1148.1 876.7,1148.9 877.2,1149.3 877.7,1150.7 878.3,1149.8 878.8,1149.9 879.3,1149.5 879.9,1150.3 880.4,1149.0 880.9,1148.5 881.5,1149.7 882.0,1150.4 882.5,1149.3 883.1,1149.6 883.6,1148.7 884.1,1149.5 884.7,1149.9 885.2,1150.4 885.7,1149.4 886.3,1151.1 886.8,1150.2 887.3,1148.9 887.9,1149.5 888.4,1149.5 888.9,1149.6 889.5,1150.4 890.0,1149.7 890.5,1149.1 891.1,1149.1 891.6,1150.2 892.1,1149.4 892.7,1148.8 893.2,1149.2 893.7,1148.4 894.3,1149.4 894.8,1150.6 895.3,1149.4 895.8,1149.3 896.4,1148.9 896.9,1149.1 897.4,1148.3 898.0,1149.0 898.5,1149.3 899.0,1149.7 899.6,1149.5 900.1,1148.5 900.6,1148.0 901.2,1149.1 901.7,1149.2 902.2,1149.5 902.8,1149.2 903.3,1149.3 903.8,1149.6 904.4,1148.7 904.9,1150.0 905.4,1149.1 906.0,1149.1 906.5,1148.7 907.0,1149.3 907.6,1149.8 908.1,1149.1 908.6,1149.7 909.2,1149.2 909.7,1149.4 910.2,1147.1 910.8,1150.2 911.3,1149.4 911.8,1147.6 912.4,1148.4 912.9,1149.0 913.4,1147.3 914.0,1145.9 914.5,1146.9 915.0,1145.6 915.6,1146.3 916.1,1144.6 916.6,1142.5 917.2,1140.2 917.7,1137.3 918.2,1132.1 918.8,1124.1 919.3,1111.3 919.8,1090.2 920.4,1056.9 920.9,1007.9 921.4,956.1 922.0,927.5 922.5,946.2 923.0,991.2 923.6,1028.7 924.1,1052.2 924.6,1070.4 925.1,1090.7 925.7,1108.0 926.2,1121.8 926.7,1130.2 927.3,1136.3 927.8,1139.6 928.3,1141.6 928.9,1143.6 929.4,1143.6 929.9,1145.5 930.5,1147.3 931.0,1147.0 931.5,1147.3 932.1,1148.0 932.6,1147.8 933.1,1148.1 933.7,1147.7 934.2,1148.8 934.7,1149.5 935.3,1149.2 935.8,1150.3 936.3,1150.9 936.9,1149.8 937.4,1149.5 937.9,1149.7 938.5,1148.4 939.0,1150.0 939.5,1150.1 940.1,1147.9 940.6,1150.4 941.1,1148.8 941.7,1149.4 942.2,1151.1 942.7,1148.7 943.3,1149.6 943.8,1149.1 944.3,1149.2 944.9,1149.2 945.4,1148.8 945.9,1147.9 946.5,1149.2 947.0,1149.6 947.5,1148.8 948.1,1149.1 948.6,1151.2 949.1,1149.1 949.7,1149.7 950.2,1149.6 950.7,1150.5 951.3,1148.1 951.8,1149.1 952.3,1149.8 952.8,1149.8 953.4,1149.6 953.9,1149.5 954.4,1148.9 955.0,1149.2 955.5,1149.8 956.0,1149.6 956.6,1149.1 957.1,1150.2 957.6,1149.8 958.2,1148.8 958.7,1149.5 959.2,1148.5 959.8,1150.3 960.3,1149.8 960.8,1150.0 961.4,1150.1 961.9,1148.9 962.4,1148.7 963.0,1149.4 963.5,1149.6 964.0,1148.2 964.6,1148.3 965.1,1150.9 965.6,1149.5 966.2,1150.9 966.7,1150.5 967.2,1149.9 967.8,1150.3 968.3,1149.0 968.8,1149.8 969.4,1149.6 969.9,1149.5 970.4,1148.3 971.0,1149.3 971.5,1148.8 972.0,1149.1 972.6,1148.6 973.1,1149.4 973.6,1149.5 974.2,1148.6 974.7,1149.4 975.2,1150.6 975.8,1150.4 976.3,1149.8 976.8,1149.1 977.4,1150.0 977.9,1148.4 978.4,1149.2 979.0,1149.7 979.5,1150.3 980.0,1149.0 980.6,1149.0 981.1,1150.3 981.6,1148.6 982.1,1148.6 982.7,1148.5 983.2,1149.5 983.7,1148.8 984.3,1150.9 984.8,1149.2 985.3,1149.8 985.9,1149.6 986.4,1149.2 986.9,1150.0 987.5,1149.6 988.0,1150.2 988.5,1150.1 989.1,1150.3 989.6,1149.3 990.1,1148.6 990.7,1150.2 991.2,1150.6 991.7,1149.7 992.3,1149.2 992.8,1149.3 993.3,1150.3 993.9,1149.5 994.4,1150.1 994.9,1149.8 995.5,1149.6 996.0,1149.8 996.5,1149.2 997.1,1149.9 997.6,1148.5 998.1,1149.5 998.7,1150.3 999.2,1148.9 999.7,1148.9 1000.3,1149.4 1000.8,1149.5 1001.3,1149.3 1001.9,1148.9 1002.4,1149.6 1002.9,1149.0 1003.5,1149.9 1004.0,1149.2 1004.5,1150.2 1005.1,1149.3 1005.6,1149.1 1006.1,1149.9 1006.7,1149.3 1007.2,1150.8 1007.7,1149.6 1008.3,1149.7 1008.8,1149.1 1009.3,1149.6 1009.9,1148.8 1010.4,1148.2 1010.9,1149.5 1011.4,1148.9 1012.0,1148.4 1012.5,1148.9 1013.0,1148.8 1013.6,1149.7 1014.1,1149.3 1014.6,1150.2 1015.2,1148.9 1015.7,1149.2 1016.2,1149.2 1016.8,1150.8 1017.3,1148.8 1017.8,1148.5 1018.4,1148.5 1018.9,1149.2 1019.4,1148.6 1020.0,1149.5 1020.5,1149.9 1021.0,1149.5 1021.6,1150.0 1022.1,1148.3 1022.6,1151.2 1023.2,1149.3 1023.7,1150.1 1024.2,1149.9 1024.8,1149.0 1025.3,1149.5 1025.8,1148.8 1026.4,1149.6 1026.9,1149.6 1027.4,1149.4 1028.0,1148.7 1028.5,1150.0 1029.0,1149.7 1029.6,1149.9 1030.1,1149.8 1030.6,1150.4 1031.2,1149.7 1031.7,1149.2 1032.2,1148.6 1032.8,1149.2 1033.3,1149.9 1033.8,1148.6 1034.4,1150.7 1034.9,1149.2 1035.4,1150.4 1036.0,1149.6 1036.5,1150.5 1037.0,1150.6 1037.6,1149.9 1038.1,1148.3 1038.6,1149.3 1039.2,1148.9 1039.7,1149.8 1040.2,1149.5 1040.7,1150.1 1041.3,1149.9 1041.8,1149.8 1042.3,1148.9 1042.9,1149.3 1043.4,1150.0 1043.9,1149.7 1044.5,1150.1 1045.0,1149.2 1045.5,1149.4 1046.1,1149.4 1046.6,1149.1 1047.1,1149.2 1047.7,1148.5 1048.2,1150.0 1048.7,1149.0 1049.3,1149.6 1049.8,1148.9 1050.3,1149.9 1050.9,1150.6 1051.4,1149.8 1051.9,1150.0 1052.5,1150.3 1053.0,1149.8 1053.5,1148.7 1054.1,1149.7 1054.6,1149.1 1055.1,1148.6 1055.7,1148.8 1056.2,1149.2 1056.7,1148.9 1057.3,1149.8 1057.8,1150.4 1058.3,1150.5 1058.9,1148.9 1059.4,1148.6 1059.9,1149.7 1060.5,1149.5 1061.0,1151.1 1061.5,1149.0 1062.1,1149.6 1062.6,1150.8 1063.1,1149.2 1063.7,1149.1 1064.2,1148.9 1064.7,1149.6 1065.3,1149.3 1065.8,1150.1 1066.3,1148.5 1066.9,1149.7 1067.4,1148.6 1067.9,1149.1 1068.5,1149.6 1069.0,1148.6 1069.5,1149.9 1070.0,1149.2 1070.6,1149.3 1071.1,1149.5 1071.6,1149.3 1072.2,1148.9 1072.7,1149.6 1073.2,1149.6 1073.8,1149.4 1074.3,1149.6 1074.8,1149.7 1075.4,1148.7 1075.9,1149.9 1076.4,1148.4 1077.0,1148.2 1077.5,1147.0 1078.0,1145.5 1078.6,1143.8 1079.1,1141.6 1079.6,1138.9 1080.2,1140.0 1080.7,1142.0 1081.2,1143.3 1081.8,1144.1 1082.3,1144.2 1082.8,1144.6 1083.4,1146.4 1083.9,1146.6 1084.4,1147.0 1085.0,1148.8 1085.5,1147.8 1086.0,1148.7 1086.6,1149.2 1087.1,1148.9 1087.6,1148.9 1088.2,1150.7 1088.7,1149.3 1089.2,1149.3 1089.8,1149.9 1090.3,1149.3 1090.8,1149.7 1091.4,1150.0 1091.9,1149.6 1092.4,1150.9 1093.0,1149.2 1093.5,1149.2 1094.0,1149.3 1094.6,1149.1 1095.1,1149.8 1095.6,1149.9 1096.2,1150.7 1096.7,1150.7 1097.2,1150.1 1097.7,1148.9 1098.3,1149.6 1098.8,1148.6 1099.3,1149.0 1099.9,1150.2 1100.4,1150.0 1100.9,1150.3 1101.5,1150.5 1102.0,1149.4 1102.5,1149.1 1103.1,1150.2 1103.6,1148.8 1104.1,1149.0 1104.7,1149.9 1105.2,1149.3 1105.7,1150.2 1106.3,1149.5 1106.8,1149.2 1107.3,1150.8 1107.9,1148.6 1108.4,1150.7 1108.9,1149.5 1109.5,1149.9 1110.0,1148.9 1110.5,1150.1 1111.1,1149.9 1111.6,1147.4 1112.1,1148.4 1112.7,1148.9 1113.2,1150.0 1113.7,1149.3 1114.3,1150.7 1114.8,1150.1 1115.3,1149.2 1115.9,1149.0 1116.4,1149.8 1116.9,1149.0 1117.5,1149.0 1118.0,1150.2 1118.5,1149.4 1119.1,1149.6 1119.6,1148.6 1120.1,1150.4 1120.7,1149.2 1121.2,1149.7 1121.7,1148.1 1122.3,1151.1 1122.8,1148.4 1123.3,1149.7 1123.9,1149.2 1124.4,1150.6 1124.9,1150.5 1125.5,1149.7 1126.0,1149.5 1126.5,1151.2 1127.0,1150.0 1127.6,1149.9 1128.1,1149.7 1128.6,1149.1 1129.2,1149.4 1129.7,1149.7 1130.2,1150.4 1130.8,1150.7 1131.3,1149.5 1131.8,1148.6 1132.4,1149.6 1132.9,1148.9 1133.4,1150.4 1134.0,1148.9 1134.5,1149.7 1135.0,1149.5 1135.6,1149.1 1136.1,1149.0 1136.6,1149.4 1137.2,1149.3 1137.7,1149.3 1138.2,1150.1 1138.8,1149.8 1139.3,1149.6 1139.8,1148.4 1140.4,1150.4 1140.9,1149.5 1141.4,1148.9 1142.0,1149.1 1142.5,1150.2 1143.0,1150.4 1143.6,1149.9 1144.1,1149.4 1144.6,1149.0 1145.2,1149.7 1145.7,1149.5 1146.2,1149.8 1146.8,1150.1 1147.3,1148.7 1147.8,1148.4 1148.4,1149.7 1148.9,1150.1 1149.4,1149.1 1150.0,1150.6 1150.5,1150.5 1151.0,1149.5 1151.6,1148.3 1152.1,1149.8 1152.6,1149.5 1153.2,1148.5 1153.7,1150.4 1154.2,1150.6 1154.8,1148.1 1155.3,1148.9 1155.8,1149.8 1156.3,1149.2 1156.9,1148.9 1157.4,1149.7 1157.9,1147.8 1158.5,1150.7 1159.0,1148.4 1159.5,1149.3 1160.1,1149.4 1160.6,1149.4 1161.1,1150.0 1161.7,1149.7 1162.2,1149.9 1162.7,1150.6 1163.3,1149.2 1163.8,1150.5 1164.3,1150.2 1164.9,1148.2 1165.4,1149.9 1165.9,1148.5 1166.5,1148.7 1167.0,1149.4 1167.5,1148.5 1168.1,1150.0 1168.6,1150.2 1169.1,1149.9 1169.7,1149.8 1170.2,1149.2 1170.7,1148.2 1171.3,1150.2 1171.8,1149.8 1172.3,1149.6 1172.9,1149.4 1173.4,1149.8 1173.9,1148.6 1174.5,1149.9 1175.0,1150.2 1175.5,1148.4 1176.1,1148.6 1176.6,1149.6 1177.1,1150.2 1177.7,1149.5 1178.2,1149.1 1178.7,1148.5 1179.3,1148.4 1179.8,1149.8 1180.3,1149.5 1180.9,1149.7 1181.4,1149.5 1181.9,1149.9 1182.5,1149.8 1183.0,1149.7 1183.5,1149.5 1184.1,1150.8 1184.6,1149.8 1185.1,1149.0 1185.6,1149.2 1186.2,1149.1 1186.7,1149.0 1187.2,1149.2 1187.8,1148.8 1188.3,1149.5 1188.8,1150.4 1189.4,1148.7 1189.9,1149.3 1190.4,1150.7 1191.0,1149.0 1191.5,1149.0 1192.0,1150.4 1192.6,1149.2 1193.1,1149.6 1193.6,1149.3 1194.2,1149.9 1194.7,1148.4 1195.2,1150.2 1195.8,1150.3 1196.3,1149.8 1196.8,1149.6 1197.4,1149.9 1197.9,1148.5 1198.4,1150.2 1199.0,1147.9 1199.5,1150.5 1200.0,1149.2 1200.6,1148.3 1201.1,1147.9 1201.6,1149.7 1202.2,1150.5 1202.7,1150.0 1203.2,1149.9 1203.8,1149.0 1204.3,1150.1 1204.8,1148.8 1205.4,1150.1 1205.9,1148.9 1206.4,1147.7 1207.0,1148.9 1207.5,1148.6 1208.0,1149.2 1208.6,1149.5 1209.1,1148.9 1209.6,1148.8 1210.2,1151.2 1210.7,1149.7 1211.2,1147.7 1211.8,1148.6 1212.3,1148.8 1212.8,1149.1 1213.3,1149.0 1213.9,1148.6 1214.4,1150.6 1214.9,1146.8 1215.5,1147.3 1216.0,1147.5 1216.5,1145.2 1217.1,1145.1 1217.6,1142.2 1218.1,1141.0 1218.7,1135.9 1219.2,1131.3 1219.7,1120.3 1220.3,1109.8 1220.8,1096.7 1221.3,1090.8 1221.9,1096.7 1222.4,1106.1 1222.9,1116.8 1223.5,1123.3 1224.0,1126.4 1224.5,1129.5 1225.1,1131.7 1225.6,1137.0 1226.1,1140.7 1226.7,1142.2 1227.2,1145.5 1227.7,1145.9 1228.3,1147.6 1228.8,1147.7 1229.3,1147.8 1229.9,1148.9 1230.4,1149.1 1230.9,1149.8 1231.5,1148.4 1232.0,1149.7 1232.5,1149.8 1233.1,1149.3 1233.6,1149.5 1234.1,1149.9 1234.7,1149.1 1235.2,1149.3 1235.7,1149.9 1236.3,1149.8 1236.8,1148.6 1237.3,1149.4 1237.9,1149.9 1238.4,1149.6 1238.9,1149.1 1239.5,1148.2 1240.0,1150.3 1240.5,1149.2 1241.1,1149.9 1241.6,1149.3 1242.1,1149.9 1242.6,1150.1 1243.2,1150.1 1243.7,1149.9 1244.2,1149.4 1244.8,1148.2 1245.3,1150.3 1245.8,1150.1 1246.4,1149.9 1246.9,1148.5 1247.4,1148.5 1248.0,1148.6 1248.5,1149.2 1249.0,1149.6 1249.6,1150.4 1250.1,1149.5 1250.6,1149.3 1251.2,1149.9 1251.7,1150.0 1252.2,1150.4 1252.8,1149.3 1253.3,1149.7 1253.8,1148.9 1254.4,1150.0 1254.9,1150.0 1255.4,1148.8 1256.0,1149.5 1256.5,1150.7 1257.0,1150.1 1257.6,1150.3 1258.1,1149.7 1258.6,1150.9 1259.2,1149.1 1259.7,1149.1 1260.2,1149.7 1260.8,1149.6 1261.3,1149.6 1261.8,1149.9 1262.4,1148.8 1262.9,1150.3 1263.4,1147.9 1264.0,1150.3 1264.5,1149.4 1265.0,1150.3 1265.6,1150.1 1266.1,1149.7 1266.6,1150.6 1267.2,1149.2 1267.7,1149.4 1268.2,1149.2 1268.8,1149.1 1269.3,1150.1 1269.8,1149.7 1270.4,1149.7 1270.9,1148.8 1271.4,1149.7 1271.9,1150.2 1272.5,1149.3 1273.0,1149.9 1273.5,1149.0 1274.1,1148.6 1274.6,1148.9 1275.1,1150.1 1275.7,1149.0 1276.2,1150.2 1276.7,1149.8 1277.3,1148.9 1277.8,1149.4 1278.3,1148.3 1278.9,1149.0 1279.4,1149.4 1279.9,1148.8 1280.5,1149.5 1281.0,1148.7 1281.5,1151.1 1282.1,1149.6 1282.6,1150.2 1283.1,1149.7 1283.7,1150.0 1284.2,1148.2 1284.7,1149.2 1285.3,1149.7 1285.8,1149.0 1286.3,1151.3 1286.9,1148.6 1287.4,1151.0 1287.9,1149.5 1288.5,1148.2 1289.0,1150.4 1289.5,1150.2 1290.1,1151.2 1290.6,1150.9 1291.1,1149.4 1291.7,1149.5 1292.2,1149.9 1292.7,1149.3 1293.3,1149.9 1293.8,1150.2 1294.3,1149.9 1294.9,1150.4 1295.4,1151.2 1295.9,1149.8 1296.5,1149.3 1297.0,1148.8 1297.5,1149.1 1298.1,1149.8 1298.6,1150.2 1299.1,1149.7 1299.7,1149.4 1300.2,1149.6 1300.7,1149.9 1301.2,1149.3 1301.8,1151.2 1302.3,1149.1 1302.8,1148.4 1303.4,1150.5 1303.9,1149.2 1304.4,1149.9 1305.0,1150.1 1305.5,1149.1 1306.0,1149.1 1306.6,1149.7 1307.1,1148.3 1307.6,1149.2 1308.2,1150.8 1308.7,1148.5 1309.2,1149.5 1309.8,1148.4 1310.3,1150.2 1310.8,1150.2 1311.4,1149.9 1311.9,1149.3 1312.4,1149.0 1313.0,1150.1 1313.5,1147.2 1314.0,1150.2 1314.6,1149.8 1315.1,1148.1 1315.6,1148.2 1316.2,1148.5 1316.7,1149.3 1317.2,1149.5 1317.8,1148.0 1318.3,1150.4 1318.8,1150.0 1319.4,1149.5 1319.9,1149.4 1320.4,1148.8 1321.0,1149.5 1321.5,1149.3 1322.0,1149.2 1322.6,1149.8 1323.1,1149.4 1323.6,1150.4 1324.2,1150.2 1324.7,1149.5 1325.2,1149.8 1325.8,1149.1 1326.3,1149.5 1326.8,1149.4 1327.4,1148.9 1327.9,1150.8 1328.4,1150.3 1329.0,1149.8 1329.5,1148.3 1330.0,1149.8 1330.5,1148.3 1331.1,1148.8 1331.6,1149.4 1332.1,1149.2 1332.7,1149.1 1333.2,1149.8 1333.7,1148.4 1334.3,1149.1 1334.8,1149.4 1335.3,1149.9 1335.9,1149.0 1336.4,1149.0 1336.9,1148.8 1337.5,1147.8 1338.0,1148.9 1338.5,1149.7 1339.1,1149.7 1339.6,1150.1 1340.1,1149.8 1340.7,1150.0 1341.2,1148.3 1341.7,1150.4 1342.3,1147.8 1342.8,1149.1 1343.3,1149.4 1343.9,1148.8 1344.4,1148.0 1344.9,1147.5 1345.5,1147.4 1346.0,1145.7 1346.5,1146.3 1347.1,1144.8 1347.6,1141.7 1348.1,1140.4 1348.7,1135.9 1349.2,1128.7 1349.7,1119.3 1350.3,1106.0 1350.8,1089.1 1351.3,1073.5 1351.9,1065.9 1352.4,1072.0 1352.9,1086.7 1353.5,1100.8 1354.0,1112.0 1354.5,1117.3 1355.1,1120.8 1355.6,1122.8 1356.1,1129.0 1356.7,1131.0 1357.2,1137.6 1357.7,1140.8 1358.2,1143.4 1358.8,1143.5 1359.3,1147.0 1359.8,1147.1 1360.4,1147.6 1360.9,1146.2 1361.4,1147.2 1362.0,1149.1 1362.5,1148.8 1363.0,1148.7 1363.6,1149.5 1364.1,1148.0 1364.6,1148.9 1365.2,1150.3 1365.7,1149.1 1366.2,1149.3 1366.8,1149.6 1367.3,1149.1 1367.8,1148.8 1368.4,1149.5 1368.9,1149.8 1369.4,1149.1 1370.0,1150.6 1370.5,1148.7 1371.0,1150.4 1371.6,1149.3 1372.1,1149.6 1372.6,1149.1 1373.2,1149.9 1373.7,1149.2 1374.2,1150.6 1374.8,1148.5 1375.3,1149.1 1375.8,1148.8 1376.4,1149.9 1376.9,1149.3 1377.4,1149.8 1378.0,1149.5 1378.5,1150.3 1379.0,1149.6 1379.6,1151.3 1380.1,1148.8 1380.6,1150.4 1381.2,1148.9 1381.7,1148.6 1382.2,1149.0 1382.8,1150.3 1383.3,1149.3 1383.8,1149.0 1384.4,1149.0 1384.9,1149.2 1385.4,1149.5 1386.0,1149.7 1386.5,1149.7 1387.0,1149.4 1387.5,1149.6 1388.1,1149.7 1388.6,1149.8 1389.1,1149.5 1389.7,1149.9 1390.2,1148.8 1390.7,1149.4 1391.3,1148.7 1391.8,1150.0 1392.3,1150.1 1392.9,1149.8 1393.4,1149.5 1393.9,1149.4 1394.5,1148.7 1395.0,1150.9 1395.5,1149.2 1396.1,1150.5 1396.6,1150.0 1397.1,1149.5 1397.7,1149.3 1398.2,1148.4 1398.7,1149.5 1399.3,1148.4 1399.8,1148.8 1400.3,1149.3 1400.9,1148.5 1401.4,1149.4 1401.9,1148.6 1402.5,1147.6 1403.0,1148.4 1403.5,1148.8 1404.1,1149.1 1404.6,1148.6 1405.1,1148.7 1405.7,1146.7 1406.2,1147.1 1406.7,1147.1 1407.3,1146.4 1407.8,1144.6 1408.3,1145.1 1408.9,1143.9 1409.4,1140.7 1409.9,1138.6 1410.5,1135.9 1411.0,1129.0 1411.5,1120.9 1412.1,1108.3 1412.6,1090.5 1413.1,1068.4 1413.7,1047.0 1414.2,1037.0 1414.7,1046.1 1415.3,1064.2 1415.8,1085.4 1416.3,1099.0 1416.8,1106.6 1417.4,1111.3 1417.9,1114.3 1418.4,1117.2 1419.0,1123.8 1419.5,1130.3 1420.0,1135.3 1420.6,1140.5 1421.1,1142.5 1421.6,1142.9 1422.2,1144.9 1422.7,1145.2 1423.2,1147.6 1423.8,1147.8 1424.3,1147.3 1424.8,1147.5 1425.4,1149.8 1425.9,1148.5 1426.4,1148.9 1427.0,1149.2 1427.5,1148.6 1428.0,1149.6 1428.6,1148.8 1429.1,1148.8 1429.6,1149.7 1430.2,1149.3 1430.7,1151.0 1431.2,1149.1 1431.8,1149.4 1432.3,1150.7 1432.8,1150.7 1433.4,1149.6 1433.9,1148.1 1434.4,1149.4 1435.0,1150.3 1435.5,1149.8 1436.0,1151.0 1436.6,1150.0 1437.1,1150.2 1437.6,1149.5 1438.2,1148.8 1438.7,1149.8 1439.2,1148.2 1439.8,1149.7 1440.3,1149.4 1440.8,1149.7 1441.4,1150.3 1441.9,1150.1 1442.4,1149.9 1443.0,1148.6 1443.5,1149.7 1444.0,1150.6 1444.6,1149.4 1445.1,1149.4 1445.6,1150.4 1446.1,1149.3 1446.7,1149.5 1447.2,1150.5 1447.7,1148.9 1448.3,1150.6 1448.8,1150.2 1449.3,1149.1 1449.9,1150.7 1450.4,1151.4 1450.9,1150.0 1451.5,1149.5 1452.0,1149.6 1452.5,1149.9 1453.1,1150.5 1453.6,1148.8 1454.1,1148.9 1454.7,1149.4 1455.2,1149.2 1455.7,1150.7 1456.3,1149.0 1456.8,1148.5 1457.3,1148.9 1457.9,1148.8 1458.4,1149.2 1458.9,1149.2 1459.5,1150.8 1460.0,1149.6 1460.5,1149.0 1461.1,1149.8 1461.6,1150.1 1462.1,1149.3 1462.7,1149.5 1463.2,1147.9 1463.7,1148.9 1464.3,1148.5 1464.8,1147.3 1465.3,1148.7 1465.9,1147.4 1466.4,1146.0 1466.9,1147.0 1467.5,1145.8 1468.0,1143.7 1468.5,1142.1 1469.1,1140.8 1469.6,1137.4 1470.1,1132.4 1470.7,1125.2 1471.2,1113.3 1471.7,1099.0 1472.3,1080.9 1472.8,1063.8 1473.3,1055.1 1473.9,1064.0 1474.4,1078.0 1474.9,1094.1 1475.4,1107.3 1476.0,1115.0 1476.5,1117.6 1477.0,1119.6 1477.6,1121.0 1478.1,1127.1 1478.6,1131.6 1479.2,1137.2 1479.7,1139.3 1480.2,1142.0 1480.8,1144.0 1481.3,1145.0 1481.8,1146.1 1482.4,1146.9 1482.9,1147.7 1483.4,1147.4 1484.0,1147.9 1484.5,1148.8 1485.0,1148.7 1485.6,1148.7 1486.1,1147.9 1486.6,1149.0 1487.2,1149.2 1487.7,1150.0 1488.2,1148.6 1488.8,1149.1 1489.3,1149.1 1489.8,1149.2 1490.4,1148.9 1490.9,1150.5 1491.4,1150.0 1492.0,1149.6 1492.5,1148.9 1493.0,1149.1 1493.6,1148.8 1494.1,1149.2 1494.6,1149.0 1495.2,1149.9 1495.7,1149.8 1496.2,1149.6 1496.8,1149.7 1497.3,1149.0 1497.8,1149.5 1498.4,1149.5 1498.9,1149.5 1499.4,1148.5 1500.0,1149.8 1500.5,1149.1 1501.0,1149.9 1501.6,1149.3 1502.1,1149.3 1502.6,1149.7 1503.1,1150.2 1503.7,1149.3 1504.2,1149.4 1504.7,1149.7 1505.3,1149.6 1505.8,1149.7 1506.3,1147.9 1506.9,1149.8 1507.4,1150.6 1507.9,1150.6 1508.5,1149.1 1509.0,1150.8 1509.5,1149.2 1510.1,1149.9 1510.6,1149.4 1511.1,1149.6 1511.7,1149.0 1512.2,1149.9 1512.7,1149.6 1513.3,1150.2 1513.8,1151.0 1514.3,1148.7 1514.9,1150.5 1515.4,1149.2 1515.9,1148.9 1516.5,1149.3 1517.0,1150.2 1517.5,1148.5 1518.1,1150.4 1518.6,1148.9 1519.1,1148.7 1519.7,1150.5 1520.2,1149.1 1520.7,1150.1 1521.3,1149.2 1521.8,1150.9 1522.3,1148.3 1522.9,1149.0 1523.4,1149.5 1523.9,1149.7 1524.5,1148.5 1525.0,1149.1 1525.5,1149.2 1526.1,1149.7 1526.6,1149.7 1527.1,1149.5 1527.7,1150.0 1528.2,1149.3 1528.7,1148.2 1529.3,1149.1 1529.8,1148.9 1530.3,1149.1 1530.9,1147.8 1531.4,1149.8 1531.9,1150.7 1532.4,1151.5 1533.0,1149.8 1533.5,1149.2 1534.0,1148.7 1534.6,1150.4 1535.1,1149.8 1535.6,1148.4 1536.2,1150.5 1536.7,1150.1 1537.2,1149.6 1537.8,1150.2 1538.3,1149.5 1538.8,1150.8 1539.4,1149.9 1539.9,1149.9 1540.4,1148.8 1541.0,1149.1 1541.5,1149.1 1542.0,1150.2 1542.6,1148.6 1543.1,1149.6 1543.6,1148.6 1544.2,1150.6 1544.7,1150.3 1545.2,1150.0 1545.8,1148.5 1546.3,1150.3 1546.8,1149.6 1547.4,1149.9 1547.9,1148.9 1548.4,1149.6 1549.0,1148.4 1549.5,1150.2 1550.0,1148.0 1550.6,1149.5 1551.1,1150.4 1551.6,1149.0 1552.2,1149.6 1552.7,1150.2 1553.2,1148.6 1553.8,1149.9 1554.3,1150.4 1554.8,1149.3 1555.4,1149.0 1555.9,1149.0 1556.4,1150.6 1557.0,1148.4 1557.5,1149.4 1558.0,1149.1 1558.6,1150.3 1559.1,1150.1 1559.6,1149.9 1560.2,1149.5 1560.7,1148.0 1561.2,1149.4 1561.7,1149.4 1562.3,1148.6 1562.8,1148.4 1563.3,1148.9 1563.9,1149.8 1564.4,1150.7 1564.9,1151.1 1565.5,1149.8 1566.0,1150.0 1566.5,1148.9 1567.1,1148.1 1567.6,1149.8 1568.1,1149.7 1568.7,1149.5 1569.2,1150.8 1569.7,1149.5 1570.3,1148.8 1570.8,1147.5 1571.3,1150.4 1571.9,1148.8 1572.4,1148.2 1572.9,1150.2 1573.5,1149.5 1574.0,1148.3 1574.5,1149.8 1575.1,1149.5 1575.6,1149.1 1576.1,1148.3 1576.7,1148.9 1577.2,1149.5 1577.7,1148.7 1578.3,1149.8 1578.8,1150.1 1579.3,1149.3 1579.9,1149.1 1580.4,1148.8 1580.9,1148.7 1581.5,1149.1 1582.0,1150.0 1582.5,1149.7 1583.1,1148.5 1583.6,1147.4 1584.1,1148.2 1584.7,1147.4 1585.2,1145.7 1585.7,1146.0 1586.3,1143.0 1586.8,1141.5 1587.3,1138.2 1587.9,1132.6 1588.4,1127.0 1588.9,1118.1 1589.5,1112.6 1590.0,1109.4 1590.5,1111.7 1591.0,1117.3 1591.6,1125.7 1592.1,1130.4 1592.6,1133.9 1593.2,1135.3 1593.7,1137.2 1594.2,1137.1 1594.8,1137.8 1595.3,1138.9 1595.8,1142.4 1596.4,1143.9 1596.9,1145.5 1597.4,1149.0 1598.0,1147.3 1598.5,1148.0 1599.0,1149.1 1599.6,1149.2 1600.1,1148.9 1600.6,1148.8 1601.2,1149.1 1601.7,1149.5 1602.2,1149.1 1602.8,1148.6 1603.3,1149.4 1603.8,1148.4 1604.4,1148.2 1604.9,1148.6 1605.4,1149.7 1606.0,1149.5 1606.5,1151.3 1607.0,1149.6 1607.6,1149.8 1608.1,1150.1 1608.6,1151.2 1609.2,1149.0 1609.7,1148.8 1610.2,1149.7 1610.8,1149.0 1611.3,1149.8 1611.8,1151.0 1612.4,1149.6 1612.9,1149.9 1613.4,1149.8 1614.0,1149.7 1614.5,1150.4 1615.0,1150.8 1615.6,1148.9 1616.1,1149.5 1616.6,1149.3 1617.2,1150.4 1617.7,1151.5 1618.2,1150.7 1618.7,1148.7 1619.3,1149.3 1619.8,1151.1 1620.3,1150.2 1620.9,1150.5 1621.4,1149.6 1621.9,1148.3 1622.5,1150.0 1623.0,1149.3 1623.5,1149.7 1624.1,1149.9 1624.6,1150.3 1625.1,1150.1 1625.7,1149.2 1626.2,1149.3 1626.7,1149.1 1627.3,1150.1 1627.8,1150.1 1628.3,1149.5 1628.9,1149.7 1629.4,1150.2 1629.9,1149.9 1630.5,1148.4 1631.0,1149.7 1631.5,1149.2 1632.1,1148.9 1632.6,1149.7 1633.1,1148.3 1633.7,1149.3 1634.2,1149.0 1634.7,1149.8 1635.3,1149.0 1635.8,1149.6 1636.3,1149.1 1636.9,1150.0 1637.4,1149.9 1637.9,1149.6 1638.5,1149.0 1639.0,1150.5 1639.5,1149.5 1640.1,1149.6 1640.6,1148.7 1641.1,1151.1 1641.7,1150.6 1642.2,1149.0 1642.7,1149.3 1643.3,1149.1 1643.8,1149.5 1644.3,1149.3 1644.9,1149.2 1645.4,1148.9 1645.9,1150.4 1646.5,1150.1 1647.0,1148.7 1647.5,1148.7 1648.0,1150.2 1648.6,1148.3 1649.1,1149.1 1649.6,1148.9 1650.2,1149.7 1650.7,1150.1 1651.2,1149.5 1651.8,1149.6 1652.3,1150.3 1652.8,1149.5 1653.4,1149.5 1653.9,1150.7 1654.4,1150.1 1655.0,1149.6 1655.5,1150.1 1656.0,1149.1 1656.6,1148.7 1657.1,1150.3 1657.6,1149.4 1658.2,1149.3 1658.7,1148.9 1659.2,1150.6 1659.8,1150.3 1660.3,1149.3 1660.8,1148.8 1661.4,1149.3 1661.9,1150.2 1662.4,1149.2 1663.0,1150.1 1663.5,1150.6 1664.0,1149.5 1664.6,1148.9 1665.1,1148.9 1665.6,1149.4 1666.2,1150.1 1666.7,1150.4 1667.2,1149.1 1667.8,1150.3 1668.3,1149.4 1668.8,1149.3 1669.4,1150.1 1669.9,1149.7 1670.4,1149.6 1671.0,1149.1 1671.5,1150.0 1672.0,1149.7 1672.6,1149.4 1673.1,1150.4 1673.6,1149.9 1674.2,1149.9 1674.7,1149.5 1675.2,1150.4 1675.8,1149.6 1676.3,1149.4 1676.8,1148.6 1677.3,1149.5 1677.9,1148.5 1678.4,1149.2 1678.9,1149.1 1679.5,1150.1 1680.0,1150.0 1680.5,1149.2 1681.1,1150.0 1681.6,1148.4 1682.1,1149.4 1682.7,1147.7 1683.2,1149.9 1683.7,1149.1 1684.3,1149.2 1684.8,1149.4 1685.3,1149.3 1685.9,1151.0 1686.4,1149.5 1686.9,1148.8 1687.5,1149.6 1688.0,1150.4 1688.5,1149.8 1689.1,1149.5 1689.6,1148.9 1690.1,1150.0 1690.7,1148.7 1691.2,1150.0 1691.7,1148.8 1692.3,1149.3 1692.8,1147.9 1693.3,1149.0 1693.9,1148.6 1694.4,1149.6 1694.9,1150.7 1695.5,1149.3 1696.0,1149.2 1696.5,1149.7 1697.1,1149.1 1697.6,1150.2 1698.1,1148.9 1698.7,1148.7 1699.2,1146.8 1699.7,1147.1 1700.3,1146.1 1700.8,1145.1 1701.3,1145.5 1701.9,1144.4 1702.4,1143.2 1702.9,1144.6 1703.5,1147.0 1704.0,1146.7 1704.5,1147.7 1705.1,1147.4 1705.6,1147.8 1706.1,1148.0 1706.6,1148.9 1707.2,1148.4 1707.7,1149.0 1708.2,1148.9 1708.8,1148.3 1709.3,1148.9 1709.8,1148.9 1710.4,1148.8 1710.9,1150.2 1711.4,1149.7 1712.0,1148.8 1712.5,1148.7 1713.0,1151.1 1713.6,1150.3 1714.1,1149.3 1714.6,1147.5 1715.2,1150.1 1715.7,1149.7 1716.2,1149.5 1716.8,1149.0 1717.3,1150.6 1717.8,1150.1 1718.4,1150.0 1718.9,1150.1 1719.4,1150.1 1720.0,1149.3 1720.5,1148.8 1721.0,1149.2 1721.6,1149.5 1722.1,1149.7 1722.6,1150.1 1723.2,1150.5 1723.7,1150.5 1724.2,1148.9 1724.8,1148.8 1725.3,1149.3 1725.8,1149.4 1726.4,1149.6 1726.9,1149.3 1727.4,1149.9 1728.0,1150.3 1728.5,1150.6 1729.0,1149.6 1729.6,1150.3 1730.1,1151.0 1730.6,1149.9 1731.2,1150.2 1731.7,1149.1 1732.2,1148.6 1732.8,1149.2 1733.3,1149.0 1733.8,1148.3 1734.4,1150.5 1734.9,1150.5 1735.4,1149.6 1735.9,1149.9 1736.5,1149.4 1737.0,1148.8 1737.5,1149.6 1738.1,1150.8 1738.6,1147.6 1739.1,1150.3 1739.7,1150.5 1740.2,1148.8 1740.7,1150.8 1741.3,1150.4 1741.8,1149.6 1742.3,1150.2 1742.9,1149.5 1743.4,1148.8 1743.9,1149.5 1744.5,1149.9 1745.0,1149.2 1745.5,1149.4 1746.1,1147.6 1746.6,1150.3 1747.1,1148.7 1747.7,1149.8 1748.2,1149.3 1748.7,1151.0 1749.3,1150.4 1749.8,1150.5 1750.3,1150.8 1750.9,1150.1 1751.4,1148.5 1751.9,1150.8 1752.5,1148.6 1753.0,1149.7 1753.5,1149.6 1754.1,1150.6 1754.6,1149.5 1755.1,1148.6 1755.7,1150.1 1756.2,1149.6 1756.7,1149.7 1757.3,1149.9 1757.8,1150.4 1758.3,1148.8 1758.9,1149.1 1759.4,1150.1 1759.9,1148.8 1760.5,1150.3 1761.0,1149.6 1761.5,1150.8 1762.1,1151.0 1762.6,1150.0 1763.1,1148.4 1763.6,1149.6 1764.2,1148.9 1764.7,1148.4 1765.2,1149.4 1765.8,1150.2 1766.3,1149.5 1766.8,1150.0 1767.4,1149.2 1767.9,1150.0 1768.4,1148.6 1769.0,1148.8 1769.5,1149.4 1770.0,1149.5 1770.6,1149.3 1771.1,1149.6 1771.6,1149.5 1772.2,1148.9 1772.7,1150.1 1773.2,1149.9 1773.8,1149.7 1774.3,1151.2 1774.8,1148.6 1775.4,1149.8 1775.9,1148.5 1776.4,1151.0 1777.0,1151.1 1777.5,1149.8 1778.0,1149.5 1778.6,1148.9 1779.1,1149.0 1779.6,1148.6 1780.2,1149.5 1780.7,1147.8 1781.2,1149.0 1781.8,1150.8 1782.3,1150.2 1782.8,1150.2 1783.4,1149.7 1783.9,1150.1 1784.4,1149.4 1785.0,1148.7 1785.5,1150.7 1786.0,1150.0 1786.6,1148.3 1787.1,1148.3 1787.6,1148.2 1788.2,1149.4 1788.7,1148.7 1789.2,1149.3 1789.8,1150.7 1790.3,1150.0 1790.8,1149.1 1791.4,1149.5 1791.9,1150.2 1792.4,1150.3 1792.9,1149.3 1793.5,1149.4 1794.0,1149.9 1794.5,1148.4 1795.1,1149.9 1795.6,1149.9 1796.1,1149.5 1796.7,1149.6 1797.2,1149.6 1797.7,1150.9 1798.3,1147.8 1798.8,1149.0 1799.3,1149.2 1799.9,1149.8 1800.4,1149.5 1800.9,1149.0 1801.5,1149.8 1802.0,1148.7 1802.5,1148.7 1803.1,1149.3 1803.6,1149.5 1804.1,1148.3 1804.7,1147.0 1805.2,1148.2 1805.7,1147.3 1806.3,1147.6 1806.8,1147.4 1807.3,1145.0 1807.9,1144.6 1808.4,1140.9 1808.9,1140.4 1809.5,1138.1 1810.0,1134.3 1810.5,1132.9 1811.1,1133.8 1811.6,1136.7 1812.1,1140.3 1812.7,1141.0 1813.2,1144.2 1813.7,1142.8 1814.3,1145.3 1814.8,1145.2 1815.3,1145.3 1815.9,1144.2 1816.4,1144.3 1816.9,1146.1 1817.5,1146.8 1818.0,1148.4 1818.5,1147.5 1819.1,1150.2 1819.6,1148.0 1820.1,1148.6 1820.7,1149.7 1821.2,1148.6 1821.7,1148.7 1822.2,1148.0 1822.8,1148.2 1823.3,1149.3 1823.8,1149.1 1824.4,1150.3 1824.9,1148.9 1825.4,1150.3 1826.0,1149.9 1826.5,1150.5 1827.0,1149.9 1827.6,1149.1 1828.1,1150.1 1828.6,1149.5 1829.2,1150.4 1829.7,1149.2 1830.2,1148.9 1830.8,1149.5 1831.3,1149.6 1831.8,1150.2 1832.4,1149.1 1832.9,1148.7 1833.4,1149.7 1834.0,1149.6 1834.5,1149.9 1835.0,1150.4 1835.6,1149.6 1836.1,1150.7 1836.6,1148.7 1837.2,1148.3 1837.7,1148.9 1838.2,1149.3 1838.8,1149.6 1839.3,1149.5 1839.8,1150.4 1840.4,1149.3 1840.9,1149.4 1841.4,1149.0 1842.0,1148.2 1842.5,1149.3 1843.0,1148.3 1843.6,1148.8 1844.1,1149.9 1844.6,1148.9 1845.2,1149.3 1845.7,1148.9 1846.2,1148.9 1846.8,1149.0 1847.3,1149.4 1847.8,1148.8 1848.4,1149.4 1848.9,1149.7 1849.4,1149.1 1850.0,1150.2 1850.5,1148.6 1851.0,1148.4 1851.5,1149.0 1852.1,1147.9 1852.6,1148.1 1853.1,1148.5 1853.7,1148.1 1854.2,1147.7 1854.7,1148.4 1855.3,1147.5 1855.8,1147.0 1856.3,1146.7 1856.9,1146.8 1857.4,1144.8 1857.9,1146.2 1858.5,1143.6 1859.0,1141.3 1859.5,1137.5 1860.1,1135.8 1860.6,1130.0 1861.1,1122.5 1861.7,1112.2 1862.2,1101.7 1862.7,1092.7 1863.3,1087.4 1863.8,1091.1 1864.3,1100.3 1864.9,1111.0 1865.4,1119.6 1865.9,1126.0 1866.5,1128.5 1867.0,1132.9 1867.5,1133.1 1868.1,1133.0 1868.6,1133.0 1869.1,1133.7 1869.7,1137.5 1870.2,1140.0 1870.7,1140.9 1871.3,1143.5 1871.8,1144.0 1872.3,1146.7 1872.9,1148.0 1873.4,1147.9 1873.9,1148.4 1874.5,1147.8 1875.0,1149.0 1875.5,1148.6 1876.1,1148.3 1876.6,1148.8 1877.1,1149.2 1877.7,1149.3 1878.2,1149.0 1878.7,1148.7 1879.2,1150.0 1879.8,1150.2 1880.3,1148.2 1880.8,1150.4 1881.4,1149.6 1881.9,1150.0 1882.4,1148.5 1883.0,1149.2 1883.5,1148.5 1884.0,1148.5 1884.6,1149.9 1885.1,1149.3 1885.6,1150.6 1886.2,1149.8 1886.7,1148.9 1887.2,1149.2 1887.8,1149.2 1888.3,1149.4 1888.8,1149.8 1889.4,1149.0 1889.9,1149.4 1890.4,1149.5 1891.0,1148.8 1891.5,1149.8 1892.0,1148.2 1892.6,1149.6 1893.1,1148.3 1893.6,1149.4 1894.2,1149.8 1894.7,1149.6 1895.2,1149.0 1895.8,1149.1 1896.3,1149.0 1896.8,1149.3 1897.4,1149.6 1897.9,1149.9 1898.4,1150.0 1899.0,1149.7 1899.5,1150.8 1900.0,1149.3 1900.6,1149.5 1901.1,1149.6 1901.6,1150.1 1902.2,1149.5 1902.7,1149.0 1903.2,1150.2 1903.8,1150.2 1904.3,1149.7 1904.8,1149.3 1905.4,1150.3 1905.9,1148.9 1906.4,1150.8 1907.0,1148.2 1907.5,1150.3 1908.0,1150.1 1908.5,1149.7 1909.1,1150.1 1909.6,1149.2 1910.1,1149.4 1910.7,1147.7 1911.2,1148.5 1911.7,1147.5 1912.3,1147.6 1912.8,1146.2 1913.3,1145.8 1913.9,1145.8 1914.4,1143.5 1914.9,1141.1 1915.5,1139.6 1916.0,1140.7 1916.5,1140.5 1917.1,1142.4 1917.6,1144.1 1918.1,1144.4 1918.7,1145.5 1919.2,1147.9 1919.7,1147.6 1920.3,1146.1 1920.8,1146.0 1921.3,1146.2 1921.9,1147.8 1922.4,1147.2 1922.9,1146.9 1923.5,1148.2 1924.0,1148.8 1924.5,1149.2 1925.1,1148.7 1925.6,1148.5 1926.1,1148.0 1926.7,1149.4 1927.2,1149.3 1927.7,1150.5 1928.3,1148.6 1928.8,1149.9 1929.3,1148.5 1929.9,1150.0 1930.4,1149.6 1930.9,1149.1 1931.5,1149.4 1932.0,1151.2 1932.5,1149.7 1933.1,1149.4 1933.6,1147.8 1934.1,1148.6 1934.7,1148.4 1935.2,1149.1 1935.7,1148.5 1936.3,1149.5 1936.8,1150.5 1937.3,1150.0 1937.8,1149.2 1938.4,1150.0 1938.9,1149.6 1939.4,1149.7 1940.0,1148.5 1940.5,1151.4 1941.0,1150.5 1941.6,1149.5 1942.1,1149.8 1942.6,1148.1 1943.2,1148.9 1943.7,1149.4 1944.2,1150.0 1944.8,1149.5 1945.3,1149.7 1945.8,1150.6 1946.4,1150.2 1946.9,1149.2 1947.4,1149.3 1948.0,1149.5 1948.5,1148.4 1949.0,1150.2 1949.6,1149.8 1950.1,1149.0 1950.6,1148.7 1951.2,1150.1 1951.7,1149.3 1952.2,1149.8 1952.8,1150.3 1953.3,1149.5 1953.8,1150.1 1954.4,1148.9 1954.9,1149.3 1955.4,1149.7 1956.0,1148.7 1956.5,1148.6 1957.0,1150.0 1957.6,1150.7 1958.1,1150.1 1958.6,1149.5 1959.2,1151.2 1959.7,1151.1 1960.2,1148.8 1960.8,1149.6 1961.3,1149.2 1961.8,1149.6 1962.4,1150.0 1962.9,1149.4 1963.4,1149.8 1964.0,1148.9 1964.5,1149.6 1965.0,1149.4 1965.6,1149.8 1966.1,1150.4 1966.6,1150.1 1967.1,1149.1 1967.7,1150.2 1968.2,1149.6 1968.7,1150.0 1969.3,1149.9 1969.8,1148.6 1970.3,1150.5 1970.9,1150.3 1971.4,1150.3 1971.9,1148.8 1972.5,1149.2 1973.0,1150.7 1973.5,1150.3 1974.1,1149.8 1974.6,1149.9 1975.1,1150.1 1975.7,1149.0 1976.2,1150.3 1976.7,1149.4 1977.3,1149.6 1977.8,1149.7 1978.3,1150.9 1978.9,1150.3 1979.4,1148.7 1979.9,1149.3 1980.5,1150.7 1981.0,1149.4 1981.5,1150.8 1982.1,1149.1 1982.6,1150.1 1983.1,1148.5 1983.7,1148.7 1984.2,1149.1 1984.7,1150.4 1985.3,1149.6 1985.8,1150.3 1986.3,1150.0 1986.9,1150.2 1987.4,1149.7 1987.9,1149.2 1988.5,1149.1 1989.0,1151.1 1989.5,1150.3 1990.1,1150.5 1990.6,1148.9 1991.1,1150.3 1991.7,1149.2 1992.2,1149.5 1992.7,1149.0 1993.3,1149.8 1993.8,1150.0 1994.3,1149.0 1994.9,1148.8 1995.4,1149.7 1995.9,1149.9 1996.4,1149.9 1997.0,1149.8 1997.5,1148.9 1998.0,1150.1 1998.6,1148.7 1999.1,1150.5 1999.6,1149.5 2000.2,1150.2 2000.7,1149.3 2001.2,1147.9 2001.8,1150.1 2002.3,1148.7 2002.8,1150.5 2003.4,1149.2 2003.9,1147.9 2004.4,1149.3 2005.0,1150.7 2005.5,1149.9 2006.0,1149.4 2006.6,1150.3 2007.1,1148.4 2007.6,1149.0 2008.2,1150.1 2008.7,1149.0 2009.2,1149.3 2009.8,1150.7 2010.3,1148.3 2010.8,1148.7 2011.4,1150.8 2011.9,1148.5 2012.4,1149.4 2013.0,1148.8 2013.5,1149.3 2014.0,1150.0 2014.6,1148.9 2015.1,1147.7 2015.6,1149.9 2016.2,1148.2 2016.7,1148.1 2017.2,1146.6 2017.8,1147.2 2018.3,1145.1 2018.8,1145.2 2019.4,1144.5 2019.9,1145.4 2020.4,1146.8 2021.0,1146.9 2021.5,1147.2 2022.0,1147.8 2022.6,1147.1 2023.1,1148.6 2023.6,1148.1 2024.1,1147.7 2024.7,1147.2 2025.2,1148.7 2025.7,1148.7 2026.3,1148.8 2026.8,1149.5 2027.3,1149.8 2027.9,1148.5 2028.4,1148.8 2028.9,1148.5 2029.5,1148.4 2030.0,1149.9 2030.5,1149.6 2031.1,1150.0 2031.6,1149.6 2032.1,1148.5 2032.7,1150.4 2033.2,1148.6 2033.7,1150.0 2034.3,1149.1 2034.8,1148.1 2035.3,1148.7 2035.9,1150.5 2036.4,1149.5 2036.9,1148.6 2037.5,1150.5 2038.0,1150.5 2038.5,1149.5 2039.1,1150.5 2039.6,1150.5 2040.1,1149.7 2040.7,1148.8 2041.2,1149.4 2041.7,1148.8 2042.3,1149.3 2042.8,1149.4 2043.3,1149.0 2043.9,1149.9 2044.4,1149.7 2044.9,1149.7 2045.5,1149.8 2046.0,1150.3 2046.5,1149.8 2047.1,1149.8 2047.6,1148.9 2048.1,1150.1 2048.7,1149.0 2049.2,1150.0 2049.7,1148.3 2050.3,1150.3 2050.8,1151.7 2051.3,1149.1 2051.9,1149.3 2052.4,1149.3 2052.9,1148.5 2053.4,1148.8 2054.0,1149.9 2054.5,1150.2 2055.0,1149.5 2055.6,1150.1 2056.1,1150.0 2056.6,1149.9 2057.2,1148.9 2057.7,1148.8 2058.2,1149.5 2058.8,1148.9 2059.3,1150.0 2059.8,1149.6 2060.4,1149.0 2060.9,1150.0 2061.4,1148.6 2062.0,1149.7 2062.5,1149.5 2063.0,1149.0 2063.6,1150.6 2064.1,1149.3 2064.6,1149.8 2065.2,1150.8 2065.7,1149.8 2066.2,1149.1 2066.8,1151.1 2067.3,1149.4 2067.8,1151.1 2068.4,1150.1 2068.9,1149.8 2069.4,1148.5 2070.0,1149.5 2070.5,1149.5 2071.0,1149.2 2071.6,1149.0 2072.1,1149.6 2072.6,1149.5 2073.2,1149.3 2073.7,1149.9 2074.2,1148.9 2074.8,1149.2 2075.3,1149.0 2075.8,1148.9 2076.4,1150.1 2076.9,1149.8 2077.4,1149.4 2078.0,1149.8 2078.5,1149.8 2079.0,1149.8"/><text x="213.5" y="1531" font-family="'Liberation Serif','Times New Roman',serif" font-size="85.8" text-anchor="middle" fill="#000">10</text><text x="479.9" y="1531" font-family="'Liberation Serif','Times New Roman',serif" font-size="85.8" text-anchor="middle" fill="#000">20</text><text x="746.2" y="1531" font-family="'Liberation Serif','Times New Roman',serif" font-size="85.8" text-anchor="middle" fill="#000">30</text><text x="1012.6" y="1531" font-family="'Liberation Serif','Times New Roman',serif" font-size="85.8" text-anchor="middle" fill="#000">40</text><text x="1278.9" y="1531" font-family="'Liberation Serif','Times New Roman',serif" font-size="85.8" text-anchor="middle" fill="#000">50</text><text x="1545.3" y="1531" font-family="'Liberation Serif','Times New Roman',serif" font-size="85.8" text-anchor="middle" fill="#000">60</text><text x="1811.7" y="1531" font-family="'Liberation Serif','Times New Roman',serif" font-size="85.8" text-anchor="middle" fill="#000">70</text><text x="2078.0" y="1531" font-family="'Liberation Serif','Times New Roman',serif" font-size="85.8" text-anchor="middle" fill="#000">80</text><text x="953" y="450.9" font-family="'Liberation Serif','Times New Roman',serif" font-weight="bold" fill="#000" font-size="86.7">Ag</text><text x="1715" y="468.9" font-family="'Liberation Serif','Times New Roman',serif" font-weight="bold" fill="#000" font-size="86.7">After</text><text x="1702" y="1025.8" font-family="'Liberation Serif','Times New Roman',serif" font-weight="bold" fill="#000" font-size="86.7">Before</text><text x="1356" y="1300.5" font-family="'Liberation Serif','Times New Roman',serif" font-weight="bold" fill="#000" font-size="86.7">Ag:</text><text x="1508" y="1300.5" font-family="'Liberation Serif','Times New Roman',serif" font-weight="bold" fill="#000" font-size="72">JCPDS</text><text x="1767.5" y="1300.5" font-family="'Liberation Serif','Times New Roman',serif" font-weight="bold" fill="#000" font-size="71.4">65-2871</text><text x="930" y="1625.8" font-family="'Liberation Serif','Times New Roman',serif" font-weight="bold" fill="#000" font-size="86.7">2</text><text x="996" y="1625.8" font-family="'Liberation Serif','Times New Roman',serif" font-weight="bold" fill="#000" font-size="81.2">θ</text><text x="1061" y="1625.8" font-family="'Liberation Serif','Times New Roman',serif" font-weight="bold" fill="#000" font-size="86.2">(degree)</text><text transform="translate(98,1032.5) rotate(-90)" x="0" y="0" font-family="'Liberation Serif','Times New Roman',serif" font-weight="bold" fill="#000" font-size="86.7">Intensity (a.u.)</text></svg>
</body></html>
